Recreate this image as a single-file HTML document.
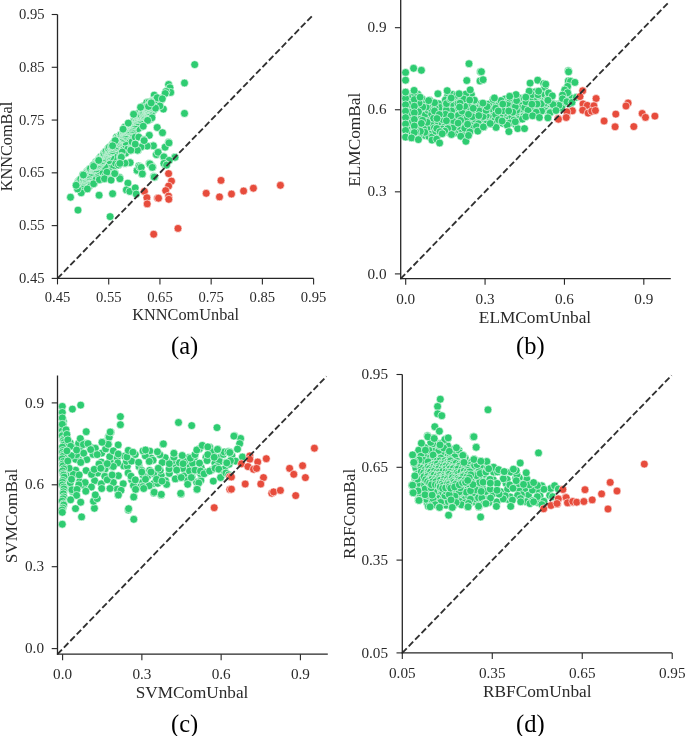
<!DOCTYPE html>
<html><head><meta charset="utf-8"><style>
html,body{margin:0;padding:0;background:#fff;}
body{width:685px;height:736px;overflow:hidden;}
svg{display:block;will-change:transform;}
text{font-family:"Liberation Serif",serif;fill:#2a2a2a;}
.t{font-size:14.6px;}
.l{font-size:16.4px;}
.g{font-size:24.5px;fill:#000;}
</style></head><body>
<svg width="685" height="736" viewBox="0 0 685 736">
<rect width="685" height="736" fill="#fff"/>
<g stroke="#fff" stroke-width="0.6"><circle cx="120.6" cy="159.5" r="3.95" fill="#2ecc71"/><circle cx="161.2" cy="100.0" r="3.95" fill="#2ecc71"/><circle cx="98.5" cy="175.5" r="3.95" fill="#2ecc71"/><circle cx="129.3" cy="147.8" r="3.95" fill="#2ecc71"/><circle cx="125.6" cy="153.2" r="3.95" fill="#2ecc71"/><circle cx="98.5" cy="171.6" r="3.95" fill="#2ecc71"/><circle cx="105.1" cy="164.8" r="3.95" fill="#2ecc71"/><circle cx="114.9" cy="172.7" r="3.95" fill="#2ecc71"/><circle cx="109.9" cy="164.7" r="3.95" fill="#2ecc71"/><circle cx="108.9" cy="168.0" r="3.95" fill="#2ecc71"/><circle cx="96.0" cy="174.8" r="3.95" fill="#2ecc71"/><circle cx="98.3" cy="178.4" r="3.95" fill="#2ecc71"/><circle cx="143.5" cy="105.9" r="3.95" fill="#2ecc71"/><circle cx="135.9" cy="133.1" r="3.95" fill="#2ecc71"/><circle cx="112.0" cy="159.1" r="3.95" fill="#2ecc71"/><circle cx="102.9" cy="172.4" r="3.95" fill="#2ecc71"/><circle cx="89.5" cy="186.0" r="3.95" fill="#2ecc71"/><circle cx="140.3" cy="127.1" r="3.95" fill="#2ecc71"/><circle cx="102.6" cy="163.4" r="3.95" fill="#2ecc71"/><circle cx="108.8" cy="175.8" r="3.95" fill="#2ecc71"/><circle cx="150.3" cy="119.2" r="3.95" fill="#2ecc71"/><circle cx="126.4" cy="145.0" r="3.95" fill="#2ecc71"/><circle cx="130.5" cy="137.1" r="3.95" fill="#2ecc71"/><circle cx="117.6" cy="159.1" r="3.95" fill="#2ecc71"/><circle cx="113.5" cy="167.3" r="3.95" fill="#2ecc71"/><circle cx="131.6" cy="146.1" r="3.95" fill="#2ecc71"/><circle cx="102.4" cy="178.8" r="3.95" fill="#2ecc71"/><circle cx="144.8" cy="118.1" r="3.95" fill="#2ecc71"/><circle cx="88.4" cy="180.2" r="3.95" fill="#2ecc71"/><circle cx="124.4" cy="147.7" r="3.95" fill="#2ecc71"/><circle cx="140.6" cy="110.4" r="3.95" fill="#2ecc71"/><circle cx="118.0" cy="151.6" r="3.95" fill="#2ecc71"/><circle cx="138.1" cy="128.7" r="3.95" fill="#2ecc71"/><circle cx="84.3" cy="188.1" r="3.95" fill="#2ecc71"/><circle cx="121.3" cy="144.9" r="3.95" fill="#2ecc71"/><circle cx="146.8" cy="102.5" r="3.95" fill="#2ecc71"/><circle cx="118.9" cy="148.4" r="3.95" fill="#2ecc71"/><circle cx="144.4" cy="122.0" r="3.95" fill="#2ecc71"/><circle cx="94.3" cy="183.2" r="3.95" fill="#2ecc71"/><circle cx="116.5" cy="137.1" r="3.95" fill="#2ecc71"/><circle cx="99.7" cy="166.7" r="3.95" fill="#2ecc71"/><circle cx="128.8" cy="141.7" r="3.95" fill="#2ecc71"/><circle cx="149.1" cy="101.9" r="3.95" fill="#2ecc71"/><circle cx="125.1" cy="142.1" r="3.95" fill="#2ecc71"/><circle cx="122.2" cy="152.0" r="3.95" fill="#2ecc71"/><circle cx="126.3" cy="137.7" r="3.95" fill="#2ecc71"/><circle cx="124.9" cy="127.0" r="3.95" fill="#2ecc71"/><circle cx="133.2" cy="133.8" r="3.95" fill="#2ecc71"/><circle cx="86.8" cy="184.1" r="3.95" fill="#2ecc71"/><circle cx="82.1" cy="189.7" r="3.95" fill="#2ecc71"/><circle cx="132.0" cy="141.8" r="3.95" fill="#2ecc71"/><circle cx="135.2" cy="137.1" r="3.95" fill="#2ecc71"/><circle cx="115.5" cy="163.2" r="3.95" fill="#2ecc71"/><circle cx="92.0" cy="179.2" r="3.95" fill="#2ecc71"/><circle cx="153.8" cy="109.9" r="3.95" fill="#2ecc71"/><circle cx="108.6" cy="160.8" r="3.95" fill="#2ecc71"/><circle cx="114.4" cy="157.0" r="3.95" fill="#2ecc71"/><circle cx="156.5" cy="106.8" r="3.95" fill="#2ecc71"/><circle cx="109.9" cy="171.8" r="3.95" fill="#2ecc71"/><circle cx="90.5" cy="183.3" r="3.95" fill="#2ecc71"/><circle cx="105.1" cy="175.9" r="3.95" fill="#2ecc71"/><circle cx="154.2" cy="95.1" r="3.95" fill="#2ecc71"/><circle cx="138.6" cy="113.4" r="3.95" fill="#2ecc71"/><circle cx="151.6" cy="114.9" r="3.95" fill="#2ecc71"/><circle cx="104.6" cy="166.7" r="3.95" fill="#2ecc71"/><circle cx="118.5" cy="165.0" r="3.95" fill="#2ecc71"/><circle cx="120.2" cy="157.0" r="3.95" fill="#2ecc71"/><circle cx="169.2" cy="90.9" r="3.95" fill="#2ecc71"/><circle cx="106.9" cy="172.2" r="3.95" fill="#2ecc71"/><circle cx="110.8" cy="156.9" r="3.95" fill="#2ecc71"/><circle cx="78.5" cy="183.6" r="3.95" fill="#2ecc71"/><circle cx="78.4" cy="182.8" r="3.95" fill="#2ecc71"/><circle cx="78.5" cy="182.3" r="3.95" fill="#2ecc71"/><circle cx="78.3" cy="181.4" r="3.95" fill="#2ecc71"/><circle cx="79.4" cy="181.8" r="3.95" fill="#2ecc71"/><circle cx="79.0" cy="180.8" r="3.95" fill="#2ecc71"/><circle cx="82.7" cy="183.5" r="3.95" fill="#2ecc71"/><circle cx="81.4" cy="181.7" r="3.95" fill="#2ecc71"/><circle cx="79.9" cy="179.6" r="3.95" fill="#2ecc71"/><circle cx="81.3" cy="180.3" r="3.95" fill="#2ecc71"/><circle cx="80.7" cy="179.1" r="3.95" fill="#2ecc71"/><circle cx="84.0" cy="181.5" r="3.95" fill="#2ecc71"/><circle cx="83.0" cy="179.9" r="3.95" fill="#2ecc71"/><circle cx="84.2" cy="180.3" r="3.95" fill="#2ecc71"/><circle cx="83.3" cy="178.9" r="3.95" fill="#2ecc71"/><circle cx="83.5" cy="178.5" r="3.95" fill="#2ecc71"/><circle cx="86.0" cy="180.1" r="3.95" fill="#2ecc71"/><circle cx="85.6" cy="179.0" r="3.95" fill="#2ecc71"/><circle cx="85.6" cy="178.4" r="3.95" fill="#2ecc71"/><circle cx="83.5" cy="175.9" r="3.95" fill="#2ecc71"/><circle cx="84.4" cy="176.0" r="3.95" fill="#2ecc71"/><circle cx="87.1" cy="177.8" r="3.95" fill="#2ecc71"/><circle cx="84.9" cy="175.2" r="3.95" fill="#2ecc71"/><circle cx="87.8" cy="177.2" r="3.95" fill="#2ecc71"/><circle cx="86.3" cy="175.2" r="3.95" fill="#2ecc71"/><circle cx="88.5" cy="176.5" r="3.95" fill="#2ecc71"/><circle cx="89.3" cy="176.6" r="3.95" fill="#2ecc71"/><circle cx="86.3" cy="173.2" r="3.95" fill="#2ecc71"/><circle cx="89.1" cy="175.2" r="3.95" fill="#2ecc71"/><circle cx="89.4" cy="174.8" r="3.95" fill="#2ecc71"/><circle cx="86.8" cy="171.8" r="3.95" fill="#2ecc71"/><circle cx="87.6" cy="171.8" r="3.95" fill="#2ecc71"/><circle cx="90.1" cy="173.5" r="3.95" fill="#2ecc71"/><circle cx="87.9" cy="170.8" r="3.95" fill="#2ecc71"/><circle cx="89.8" cy="171.9" r="3.95" fill="#2ecc71"/><circle cx="89.6" cy="171.1" r="3.95" fill="#2ecc71"/><circle cx="91.7" cy="172.4" r="3.95" fill="#2ecc71"/><circle cx="89.2" cy="169.4" r="3.95" fill="#2ecc71"/><circle cx="90.5" cy="170.0" r="3.95" fill="#2ecc71"/><circle cx="89.8" cy="168.7" r="3.95" fill="#2ecc71"/><circle cx="90.4" cy="168.6" r="3.95" fill="#2ecc71"/><circle cx="93.0" cy="170.3" r="3.95" fill="#2ecc71"/><circle cx="93.1" cy="169.7" r="3.95" fill="#2ecc71"/><circle cx="94.1" cy="170.1" r="3.95" fill="#2ecc71"/><circle cx="94.5" cy="169.8" r="3.95" fill="#2ecc71"/><circle cx="95.2" cy="169.7" r="3.95" fill="#2ecc71"/><circle cx="94.6" cy="168.5" r="3.95" fill="#2ecc71"/><circle cx="93.7" cy="167.1" r="3.95" fill="#2ecc71"/><circle cx="96.4" cy="168.9" r="3.95" fill="#2ecc71"/><circle cx="94.1" cy="166.2" r="3.95" fill="#2ecc71"/><circle cx="95.7" cy="167.0" r="3.95" fill="#2ecc71"/><circle cx="96.2" cy="166.7" r="3.95" fill="#2ecc71"/><circle cx="94.5" cy="164.6" r="3.95" fill="#2ecc71"/><circle cx="96.1" cy="165.4" r="3.95" fill="#2ecc71"/><circle cx="97.1" cy="165.7" r="3.95" fill="#2ecc71"/><circle cx="96.8" cy="164.7" r="3.95" fill="#2ecc71"/><circle cx="96.3" cy="163.6" r="3.95" fill="#2ecc71"/><circle cx="99.1" cy="165.5" r="3.95" fill="#2ecc71"/><circle cx="95.9" cy="161.9" r="3.95" fill="#2ecc71"/><circle cx="99.8" cy="164.9" r="3.95" fill="#2ecc71"/><circle cx="97.4" cy="162.0" r="3.95" fill="#2ecc71"/><circle cx="97.3" cy="161.3" r="3.95" fill="#2ecc71"/><circle cx="100.8" cy="163.9" r="3.95" fill="#2ecc71"/><circle cx="98.2" cy="160.8" r="3.95" fill="#2ecc71"/><circle cx="100.1" cy="162.0" r="3.95" fill="#2ecc71"/><circle cx="99.6" cy="160.9" r="3.95" fill="#2ecc71"/><circle cx="102.1" cy="162.5" r="3.95" fill="#2ecc71"/><circle cx="102.3" cy="162.0" r="3.95" fill="#2ecc71"/><circle cx="102.1" cy="161.2" r="3.95" fill="#2ecc71"/><circle cx="99.5" cy="158.1" r="3.95" fill="#2ecc71"/><circle cx="102.7" cy="160.5" r="3.95" fill="#2ecc71"/><circle cx="100.9" cy="158.1" r="3.95" fill="#2ecc71"/><circle cx="100.5" cy="157.2" r="3.95" fill="#2ecc71"/><circle cx="100.8" cy="156.8" r="3.95" fill="#2ecc71"/><circle cx="103.4" cy="158.5" r="3.95" fill="#2ecc71"/><circle cx="103.7" cy="158.2" r="3.95" fill="#2ecc71"/><circle cx="103.4" cy="157.2" r="3.95" fill="#2ecc71"/><circle cx="102.8" cy="156.0" r="3.95" fill="#2ecc71"/><circle cx="105.6" cy="158.0" r="3.95" fill="#2ecc71"/><circle cx="103.5" cy="155.4" r="3.95" fill="#2ecc71"/><circle cx="103.6" cy="154.8" r="3.95" fill="#2ecc71"/><circle cx="103.7" cy="154.3" r="3.95" fill="#2ecc71"/><circle cx="107.2" cy="156.8" r="3.95" fill="#2ecc71"/><circle cx="104.0" cy="153.3" r="3.95" fill="#2ecc71"/><circle cx="107.6" cy="155.9" r="3.95" fill="#2ecc71"/><circle cx="107.0" cy="154.7" r="3.95" fill="#2ecc71"/><circle cx="106.3" cy="153.4" r="3.95" fill="#2ecc71"/><circle cx="105.4" cy="152.0" r="3.95" fill="#2ecc71"/><circle cx="108.0" cy="153.6" r="3.95" fill="#2ecc71"/><circle cx="106.0" cy="151.2" r="3.95" fill="#2ecc71"/><circle cx="107.8" cy="152.2" r="3.95" fill="#2ecc71"/><circle cx="109.0" cy="152.7" r="3.95" fill="#2ecc71"/><circle cx="109.3" cy="152.3" r="3.95" fill="#2ecc71"/><circle cx="110.2" cy="152.4" r="3.95" fill="#2ecc71"/><circle cx="110.9" cy="152.4" r="3.95" fill="#2ecc71"/><circle cx="111.0" cy="151.8" r="3.95" fill="#2ecc71"/><circle cx="109.2" cy="149.6" r="3.95" fill="#2ecc71"/><circle cx="108.3" cy="148.2" r="3.95" fill="#2ecc71"/><circle cx="111.9" cy="150.7" r="3.95" fill="#2ecc71"/><circle cx="112.6" cy="150.8" r="3.95" fill="#2ecc71"/><circle cx="109.4" cy="147.1" r="3.95" fill="#2ecc71"/><circle cx="111.4" cy="148.4" r="3.95" fill="#2ecc71"/><circle cx="112.2" cy="148.5" r="3.95" fill="#2ecc71"/><circle cx="113.2" cy="148.7" r="3.95" fill="#2ecc71"/><circle cx="112.1" cy="147.1" r="3.95" fill="#2ecc71"/><circle cx="111.6" cy="145.9" r="3.95" fill="#2ecc71"/><circle cx="113.3" cy="146.9" r="3.95" fill="#2ecc71"/><circle cx="113.8" cy="146.7" r="3.95" fill="#2ecc71"/><circle cx="115.5" cy="147.6" r="3.95" fill="#2ecc71"/><circle cx="112.5" cy="144.2" r="3.95" fill="#2ecc71"/><circle cx="116.2" cy="147.0" r="3.95" fill="#2ecc71"/><circle cx="114.8" cy="145.0" r="3.95" fill="#2ecc71"/><circle cx="113.8" cy="143.4" r="3.95" fill="#2ecc71"/><circle cx="116.8" cy="145.6" r="3.95" fill="#2ecc71"/><circle cx="114.8" cy="143.1" r="3.95" fill="#2ecc71"/><circle cx="114.3" cy="142.0" r="3.95" fill="#2ecc71"/><circle cx="115.9" cy="142.8" r="3.95" fill="#2ecc71"/><circle cx="115.6" cy="141.9" r="3.95" fill="#2ecc71"/><circle cx="118.5" cy="143.9" r="3.95" fill="#2ecc71"/><circle cx="117.6" cy="142.4" r="3.95" fill="#2ecc71"/><circle cx="119.0" cy="143.1" r="3.95" fill="#2ecc71"/><circle cx="116.7" cy="140.3" r="3.95" fill="#2ecc71"/><circle cx="119.1" cy="141.8" r="3.95" fill="#2ecc71"/><circle cx="118.8" cy="140.9" r="3.95" fill="#2ecc71"/><circle cx="117.0" cy="138.7" r="3.95" fill="#2ecc71"/><circle cx="117.9" cy="138.8" r="3.95" fill="#2ecc71"/><circle cx="117.8" cy="138.0" r="3.95" fill="#2ecc71"/><circle cx="120.1" cy="139.5" r="3.95" fill="#2ecc71"/><circle cx="120.3" cy="139.1" r="3.95" fill="#2ecc71"/><circle cx="119.7" cy="137.9" r="3.95" fill="#2ecc71"/><circle cx="121.0" cy="138.4" r="3.95" fill="#2ecc71"/><circle cx="122.0" cy="138.7" r="3.95" fill="#2ecc71"/><circle cx="121.9" cy="137.9" r="3.95" fill="#2ecc71"/><circle cx="123.2" cy="138.5" r="3.95" fill="#2ecc71"/><circle cx="122.6" cy="137.3" r="3.95" fill="#2ecc71"/><circle cx="120.6" cy="134.8" r="3.95" fill="#2ecc71"/><circle cx="121.1" cy="134.6" r="3.95" fill="#2ecc71"/><circle cx="122.7" cy="135.4" r="3.95" fill="#2ecc71"/><circle cx="123.5" cy="135.5" r="3.95" fill="#2ecc71"/><circle cx="124.4" cy="135.7" r="3.95" fill="#2ecc71"/><circle cx="125.7" cy="136.2" r="3.95" fill="#2ecc71"/><circle cx="125.3" cy="135.2" r="3.95" fill="#2ecc71"/><circle cx="123.7" cy="133.1" r="3.95" fill="#2ecc71"/><circle cx="123.7" cy="132.4" r="3.95" fill="#2ecc71"/><circle cx="125.9" cy="133.9" r="3.95" fill="#2ecc71"/><circle cx="124.6" cy="132.0" r="3.95" fill="#2ecc71"/><circle cx="125.0" cy="131.7" r="3.95" fill="#2ecc71"/><circle cx="125.6" cy="131.7" r="3.95" fill="#2ecc71"/><circle cx="126.1" cy="131.4" r="3.95" fill="#2ecc71"/><circle cx="126.0" cy="130.7" r="3.95" fill="#2ecc71"/><circle cx="127.8" cy="131.8" r="3.95" fill="#2ecc71"/><circle cx="126.9" cy="130.2" r="3.95" fill="#2ecc71"/><circle cx="128.8" cy="131.3" r="3.95" fill="#2ecc71"/><circle cx="128.3" cy="130.3" r="3.95" fill="#2ecc71"/><circle cx="127.6" cy="128.9" r="3.95" fill="#2ecc71"/><circle cx="128.2" cy="128.9" r="3.95" fill="#2ecc71"/><circle cx="130.0" cy="129.9" r="3.95" fill="#2ecc71"/><circle cx="127.9" cy="127.3" r="3.95" fill="#2ecc71"/><circle cx="129.3" cy="127.9" r="3.95" fill="#2ecc71"/><circle cx="129.9" cy="127.8" r="3.95" fill="#2ecc71"/><circle cx="132.4" cy="129.5" r="3.95" fill="#2ecc71"/><circle cx="130.7" cy="127.2" r="3.95" fill="#2ecc71"/><circle cx="132.1" cy="127.9" r="3.95" fill="#2ecc71"/><circle cx="130.9" cy="126.1" r="3.95" fill="#2ecc71"/><circle cx="132.0" cy="126.5" r="3.95" fill="#2ecc71"/><circle cx="130.9" cy="124.9" r="3.95" fill="#2ecc71"/><circle cx="131.9" cy="125.1" r="3.95" fill="#2ecc71"/><circle cx="131.7" cy="124.3" r="3.95" fill="#2ecc71"/><circle cx="133.7" cy="125.5" r="3.95" fill="#2ecc71"/><circle cx="132.9" cy="124.1" r="3.95" fill="#2ecc71"/><circle cx="132.9" cy="123.4" r="3.95" fill="#2ecc71"/><circle cx="132.8" cy="122.7" r="3.95" fill="#2ecc71"/><circle cx="135.0" cy="124.1" r="3.95" fill="#2ecc71"/><circle cx="133.4" cy="122.0" r="3.95" fill="#2ecc71"/><circle cx="133.6" cy="121.5" r="3.95" fill="#2ecc71"/><circle cx="134.7" cy="121.8" r="3.95" fill="#2ecc71"/><circle cx="133.9" cy="120.5" r="3.95" fill="#2ecc71"/><circle cx="134.3" cy="120.2" r="3.95" fill="#2ecc71"/><circle cx="136.3" cy="121.4" r="3.95" fill="#2ecc71"/><circle cx="136.6" cy="121.0" r="3.95" fill="#2ecc71"/><circle cx="138.3" cy="121.9" r="3.95" fill="#2ecc71"/><circle cx="136.0" cy="119.2" r="3.95" fill="#2ecc71"/><circle cx="136.0" cy="118.5" r="3.95" fill="#2ecc71"/><circle cx="138.0" cy="119.8" r="3.95" fill="#2ecc71"/><circle cx="137.5" cy="118.7" r="3.95" fill="#2ecc71"/><circle cx="137.8" cy="118.2" r="3.95" fill="#2ecc71"/><circle cx="138.0" cy="117.8" r="3.95" fill="#2ecc71"/><circle cx="140.5" cy="119.4" r="3.95" fill="#2ecc71"/><circle cx="138.5" cy="116.9" r="3.95" fill="#2ecc71"/><circle cx="139.6" cy="117.3" r="3.95" fill="#2ecc71"/><circle cx="139.6" cy="116.6" r="3.95" fill="#2ecc71"/><circle cx="140.8" cy="117.1" r="3.95" fill="#2ecc71"/><circle cx="140.4" cy="116.1" r="3.95" fill="#2ecc71"/><circle cx="140.1" cy="115.2" r="3.95" fill="#2ecc71"/><circle cx="141.0" cy="115.3" r="3.95" fill="#2ecc71"/><circle cx="141.0" cy="114.7" r="3.95" fill="#2ecc71"/><circle cx="144.0" cy="116.8" r="3.95" fill="#2ecc71"/><circle cx="143.8" cy="116.0" r="3.95" fill="#2ecc71"/><circle cx="143.0" cy="114.6" r="3.95" fill="#2ecc71"/><circle cx="142.5" cy="113.5" r="3.95" fill="#2ecc71"/><circle cx="144.5" cy="114.7" r="3.95" fill="#2ecc71"/><circle cx="143.0" cy="112.7" r="3.95" fill="#2ecc71"/><circle cx="143.6" cy="112.5" r="3.95" fill="#2ecc71"/><circle cx="146.2" cy="114.3" r="3.95" fill="#2ecc71"/><circle cx="144.8" cy="112.4" r="3.95" fill="#2ecc71"/><circle cx="146.1" cy="112.9" r="3.95" fill="#2ecc71"/><circle cx="147.1" cy="113.2" r="3.95" fill="#2ecc71"/><circle cx="147.1" cy="112.5" r="3.95" fill="#2ecc71"/><circle cx="146.7" cy="111.5" r="3.95" fill="#2ecc71"/><circle cx="147.6" cy="111.7" r="3.95" fill="#2ecc71"/><circle cx="147.8" cy="111.3" r="3.95" fill="#2ecc71"/><circle cx="148.8" cy="111.5" r="3.95" fill="#2ecc71"/><circle cx="147.4" cy="109.6" r="3.95" fill="#2ecc71"/><circle cx="148.1" cy="109.6" r="3.95" fill="#2ecc71"/><circle cx="147.5" cy="108.4" r="3.95" fill="#2ecc71"/><circle cx="147.9" cy="108.1" r="3.95" fill="#2ecc71"/><circle cx="149.6" cy="109.0" r="3.95" fill="#2ecc71"/><circle cx="147.4" cy="106.3" r="3.95" fill="#2ecc71"/><circle cx="151.1" cy="109.1" r="3.95" fill="#2ecc71"/><circle cx="149.9" cy="107.4" r="3.95" fill="#2ecc71"/><circle cx="150.7" cy="107.5" r="3.95" fill="#2ecc71"/><circle cx="150.5" cy="106.6" r="3.95" fill="#2ecc71"/><circle cx="152.0" cy="107.3" r="3.95" fill="#2ecc71"/><circle cx="149.6" cy="104.5" r="3.95" fill="#2ecc71"/><circle cx="151.7" cy="105.7" r="3.95" fill="#2ecc71"/><circle cx="153.3" cy="106.6" r="3.95" fill="#2ecc71"/><circle cx="151.4" cy="104.2" r="3.95" fill="#2ecc71"/><circle cx="153.7" cy="105.6" r="3.95" fill="#2ecc71"/><circle cx="152.3" cy="103.7" r="3.95" fill="#2ecc71"/><circle cx="153.4" cy="104.1" r="3.95" fill="#2ecc71"/><circle cx="152.8" cy="102.9" r="3.95" fill="#2ecc71"/><circle cx="151.7" cy="101.2" r="3.95" fill="#2ecc71"/><circle cx="152.5" cy="101.3" r="3.95" fill="#2ecc71"/><circle cx="154.4" cy="102.4" r="3.95" fill="#2ecc71"/><circle cx="153.2" cy="100.7" r="3.95" fill="#2ecc71"/><circle cx="154.2" cy="100.9" r="3.95" fill="#2ecc71"/><circle cx="155.5" cy="101.5" r="3.95" fill="#2ecc71"/><circle cx="156.7" cy="102.0" r="3.95" fill="#2ecc71"/><circle cx="155.3" cy="100.0" r="3.95" fill="#2ecc71"/><circle cx="155.8" cy="99.8" r="3.95" fill="#2ecc71"/><circle cx="168.6" cy="84.5" r="3.95" fill="#2ecc71"/><circle cx="170.0" cy="87.7" r="3.95" fill="#2ecc71"/><circle cx="170.7" cy="92.4" r="3.95" fill="#2ecc71"/><circle cx="166.0" cy="91.5" r="3.95" fill="#2ecc71"/><circle cx="162.1" cy="98.2" r="3.95" fill="#2ecc71"/><circle cx="157.2" cy="97.7" r="3.95" fill="#2ecc71"/><circle cx="163.4" cy="109.1" r="3.95" fill="#2ecc71"/><circle cx="159.9" cy="105.9" r="3.95" fill="#2ecc71"/><circle cx="155.5" cy="108.2" r="3.95" fill="#2ecc71"/><circle cx="151.1" cy="102.0" r="3.95" fill="#2ecc71"/><circle cx="140.6" cy="107.3" r="3.95" fill="#2ecc71"/><circle cx="148.5" cy="106.4" r="3.95" fill="#2ecc71"/><circle cx="152.0" cy="117.8" r="3.95" fill="#2ecc71"/><circle cx="147.6" cy="120.4" r="3.95" fill="#2ecc71"/><circle cx="143.2" cy="126.2" r="3.95" fill="#2ecc71"/><circle cx="133.6" cy="114.3" r="3.95" fill="#2ecc71"/><circle cx="128.3" cy="123.1" r="3.95" fill="#2ecc71"/><circle cx="123.1" cy="129.2" r="3.95" fill="#2ecc71"/><circle cx="157.2" cy="127.5" r="3.95" fill="#2ecc71"/><circle cx="162.5" cy="132.7" r="3.95" fill="#2ecc71"/><circle cx="149.3" cy="135.3" r="3.95" fill="#2ecc71"/><circle cx="138.8" cy="137.1" r="3.95" fill="#2ecc71"/><circle cx="144.1" cy="139.7" r="3.95" fill="#2ecc71"/><circle cx="152.9" cy="145.8" r="3.95" fill="#2ecc71"/><circle cx="146.7" cy="145.8" r="3.95" fill="#2ecc71"/><circle cx="140.6" cy="146.7" r="3.95" fill="#2ecc71"/><circle cx="135.3" cy="144.1" r="3.95" fill="#2ecc71"/><circle cx="138.0" cy="150.2" r="3.95" fill="#2ecc71"/><circle cx="131.0" cy="150.2" r="3.95" fill="#2ecc71"/><circle cx="168.6" cy="142.3" r="3.95" fill="#2ecc71"/><circle cx="165.1" cy="147.2" r="3.95" fill="#2ecc71"/><circle cx="156.4" cy="154.6" r="3.95" fill="#2ecc71"/><circle cx="158.1" cy="152.0" r="3.95" fill="#2ecc71"/><circle cx="163.4" cy="156.4" r="3.95" fill="#2ecc71"/><circle cx="174.8" cy="157.2" r="3.95" fill="#2ecc71"/><circle cx="168.6" cy="160.7" r="3.95" fill="#2ecc71"/><circle cx="165.1" cy="165.1" r="3.95" fill="#2ecc71"/><circle cx="151.1" cy="165.1" r="3.95" fill="#2ecc71"/><circle cx="138.8" cy="166.0" r="3.95" fill="#2ecc71"/><circle cx="137.1" cy="170.4" r="3.95" fill="#2ecc71"/><circle cx="142.3" cy="173.5" r="3.95" fill="#2ecc71"/><circle cx="130.1" cy="162.5" r="3.95" fill="#2ecc71"/><circle cx="124.8" cy="163.4" r="3.95" fill="#2ecc71"/><circle cx="121.3" cy="156.4" r="3.95" fill="#2ecc71"/><circle cx="119.6" cy="177.4" r="3.95" fill="#2ecc71"/><circle cx="114.3" cy="173.0" r="3.95" fill="#2ecc71"/><circle cx="153.7" cy="176.5" r="3.95" fill="#2ecc71"/><circle cx="115.2" cy="140.6" r="3.95" fill="#2ecc71"/><circle cx="112.6" cy="145.8" r="3.95" fill="#2ecc71"/><circle cx="98.5" cy="159.9" r="3.95" fill="#2ecc71"/><circle cx="93.3" cy="165.1" r="3.95" fill="#2ecc71"/><circle cx="82.8" cy="174.8" r="3.95" fill="#2ecc71"/><circle cx="194.7" cy="64.6" r="3.95" fill="#2ecc71"/><circle cx="184.5" cy="83.0" r="3.95" fill="#2ecc71"/><circle cx="184.5" cy="113.4" r="3.95" fill="#2ecc71"/><circle cx="165.2" cy="93.5" r="3.95" fill="#2ecc71"/><circle cx="162.3" cy="98.8" r="3.95" fill="#2ecc71"/><circle cx="151.2" cy="102.9" r="3.95" fill="#2ecc71"/><circle cx="70.5" cy="197.2" r="3.95" fill="#2ecc71"/><circle cx="78.0" cy="210.1" r="3.95" fill="#2ecc71"/><circle cx="110.1" cy="216.6" r="3.95" fill="#2ecc71"/><circle cx="99.1" cy="195.2" r="3.95" fill="#2ecc71"/><circle cx="112.6" cy="193.7" r="3.95" fill="#2ecc71"/><circle cx="81.2" cy="192.8" r="3.95" fill="#2ecc71"/><circle cx="77.5" cy="188.9" r="3.95" fill="#2ecc71"/><circle cx="76.1" cy="185.3" r="3.95" fill="#2ecc71"/><circle cx="87.4" cy="188.9" r="3.95" fill="#2ecc71"/><circle cx="93.6" cy="183.8" r="3.95" fill="#2ecc71"/><circle cx="99.4" cy="179.7" r="3.95" fill="#2ecc71"/><circle cx="104.5" cy="178.7" r="3.95" fill="#2ecc71"/><circle cx="111.1" cy="180.1" r="3.95" fill="#2ecc71"/><circle cx="119.9" cy="178.7" r="3.95" fill="#2ecc71"/><circle cx="114.7" cy="173.6" r="3.95" fill="#2ecc71"/><circle cx="127.9" cy="183.1" r="3.95" fill="#2ecc71"/><circle cx="126.4" cy="189.9" r="3.95" fill="#2ecc71"/><circle cx="129.8" cy="191.4" r="3.95" fill="#2ecc71"/><circle cx="135.2" cy="187.9" r="3.95" fill="#2ecc71"/><circle cx="136.2" cy="194.0" r="3.95" fill="#2ecc71"/><circle cx="137.1" cy="170.4" r="3.95" fill="#2ecc71"/><circle cx="139.6" cy="167.0" r="3.95" fill="#2ecc71"/><circle cx="142.0" cy="173.9" r="3.95" fill="#2ecc71"/><circle cx="149.3" cy="163.4" r="3.95" fill="#2ecc71"/><circle cx="152.7" cy="167.0" r="3.95" fill="#2ecc71"/><circle cx="154.6" cy="177.2" r="3.95" fill="#2ecc71"/><circle cx="156.4" cy="154.6" r="3.95" fill="#2ecc71"/><circle cx="153.4" cy="145.8" r="3.95" fill="#2ecc71"/><circle cx="147.2" cy="146.1" r="3.95" fill="#2ecc71"/><circle cx="141.0" cy="147.0" r="3.95" fill="#2ecc71"/><circle cx="137.4" cy="150.2" r="3.95" fill="#2ecc71"/><circle cx="130.8" cy="150.2" r="3.95" fill="#2ecc71"/><circle cx="135.2" cy="144.1" r="3.95" fill="#2ecc71"/><circle cx="130.1" cy="162.6" r="3.95" fill="#2ecc71"/><circle cx="125.0" cy="163.1" r="3.95" fill="#2ecc71"/><circle cx="121.3" cy="157.2" r="3.95" fill="#2ecc71"/><circle cx="119.9" cy="163.4" r="3.95" fill="#2ecc71"/><circle cx="83.4" cy="175.0" r="3.95" fill="#2ecc71"/><circle cx="93.6" cy="166.3" r="3.95" fill="#2ecc71"/><circle cx="98.7" cy="160.4" r="3.95" fill="#2ecc71"/><circle cx="144.1" cy="140.6" r="3.95" fill="#2ecc71"/><circle cx="169.0" cy="142.9" r="3.95" fill="#2ecc71"/><circle cx="158.1" cy="152.3" r="3.95" fill="#2ecc71"/><circle cx="163.9" cy="156.9" r="3.95" fill="#2ecc71"/><circle cx="175.0" cy="157.3" r="3.95" fill="#2ecc71"/><circle cx="169.2" cy="160.4" r="3.95" fill="#2ecc71"/><circle cx="163.9" cy="163.4" r="3.95" fill="#2ecc71"/><circle cx="166.6" cy="165.1" r="3.95" fill="#2ecc71"/><circle cx="149.9" cy="163.9" r="3.95" fill="#2ecc71"/><circle cx="152.3" cy="167.4" r="3.95" fill="#2ecc71"/><circle cx="141.2" cy="167.4" r="3.95" fill="#2ecc71"/><circle cx="142.3" cy="173.9" r="3.95" fill="#2ecc71"/><circle cx="154.2" cy="177.1" r="3.95" fill="#2ecc71"/><circle cx="144.4" cy="191.4" r="3.95" fill="#e74c3c"/><circle cx="146.9" cy="197.7" r="3.95" fill="#e74c3c"/><circle cx="147.2" cy="203.9" r="3.95" fill="#e74c3c"/><circle cx="157.5" cy="198.1" r="3.95" fill="#e74c3c"/><circle cx="153.7" cy="234.2" r="3.95" fill="#e74c3c"/><circle cx="178.0" cy="228.4" r="3.95" fill="#e74c3c"/><circle cx="168.6" cy="173.6" r="3.95" fill="#e74c3c"/><circle cx="171.5" cy="181.1" r="3.95" fill="#e74c3c"/><circle cx="168.6" cy="186.1" r="3.95" fill="#e74c3c"/><circle cx="165.7" cy="190.6" r="3.95" fill="#e74c3c"/><circle cx="168.6" cy="196.1" r="3.95" fill="#e74c3c"/><circle cx="168.8" cy="199.3" r="3.95" fill="#e74c3c"/><circle cx="158.5" cy="198.2" r="3.95" fill="#e74c3c"/><circle cx="206.2" cy="193.3" r="3.95" fill="#e74c3c"/><circle cx="221.0" cy="180.4" r="3.95" fill="#e74c3c"/><circle cx="219.5" cy="196.9" r="3.95" fill="#e74c3c"/><circle cx="231.5" cy="194.0" r="3.95" fill="#e74c3c"/><circle cx="243.6" cy="191.0" r="3.95" fill="#e74c3c"/><circle cx="253.4" cy="188.2" r="3.95" fill="#e74c3c"/><circle cx="280.4" cy="185.3" r="3.95" fill="#e74c3c"/></g>
<line x1="57.5" y1="278.4" x2="313.4" y2="14.6" stroke="#303030" stroke-width="1.85" stroke-dasharray="6.4 2.8"/>
<line x1="57.5" y1="14.5" x2="57.5" y2="279.0" stroke="#262626" stroke-width="1.3"/>
<line x1="56.9" y1="278.4" x2="313.6" y2="278.4" stroke="#262626" stroke-width="1.3"/>
<line x1="57.5" y1="278.4" x2="57.5" y2="284.4" stroke="#262626" stroke-width="1.1"/>
<text x="57.5" y="301.9" text-anchor="middle" class="t" style="font-size:14.6px">0.45</text>
<line x1="108.72" y1="278.4" x2="108.72" y2="284.4" stroke="#262626" stroke-width="1.1"/>
<text x="108.72" y="301.9" text-anchor="middle" class="t" style="font-size:14.6px">0.55</text>
<line x1="159.94" y1="278.4" x2="159.94" y2="284.4" stroke="#262626" stroke-width="1.1"/>
<text x="159.94" y="301.9" text-anchor="middle" class="t" style="font-size:14.6px">0.65</text>
<line x1="211.16" y1="278.4" x2="211.16" y2="284.4" stroke="#262626" stroke-width="1.1"/>
<text x="211.16" y="301.9" text-anchor="middle" class="t" style="font-size:14.6px">0.75</text>
<line x1="262.38" y1="278.4" x2="262.38" y2="284.4" stroke="#262626" stroke-width="1.1"/>
<text x="262.38" y="301.9" text-anchor="middle" class="t" style="font-size:14.6px">0.85</text>
<line x1="313.6" y1="278.4" x2="313.6" y2="284.4" stroke="#262626" stroke-width="1.1"/>
<text x="313.6" y="301.9" text-anchor="middle" class="t" style="font-size:14.6px">0.95</text>
<line x1="51.7" y1="278.4" x2="57.5" y2="278.4" stroke="#262626" stroke-width="1.1"/>
<text x="44.5" y="283.0" text-anchor="end" class="t" style="font-size:14.6px">0.45</text>
<line x1="51.7" y1="225.61999999999998" x2="57.5" y2="225.61999999999998" stroke="#262626" stroke-width="1.1"/>
<text x="44.5" y="230.21999999999997" text-anchor="end" class="t" style="font-size:14.6px">0.55</text>
<line x1="51.7" y1="172.83999999999997" x2="57.5" y2="172.83999999999997" stroke="#262626" stroke-width="1.1"/>
<text x="44.5" y="177.43999999999997" text-anchor="end" class="t" style="font-size:14.6px">0.65</text>
<line x1="51.7" y1="120.05999999999997" x2="57.5" y2="120.05999999999997" stroke="#262626" stroke-width="1.1"/>
<text x="44.5" y="124.65999999999997" text-anchor="end" class="t" style="font-size:14.6px">0.75</text>
<line x1="51.7" y1="67.27999999999997" x2="57.5" y2="67.27999999999997" stroke="#262626" stroke-width="1.1"/>
<text x="44.5" y="71.87999999999997" text-anchor="end" class="t" style="font-size:14.6px">0.85</text>
<line x1="51.7" y1="14.5" x2="57.5" y2="14.5" stroke="#262626" stroke-width="1.1"/>
<text x="44.5" y="19.1" text-anchor="end" class="t" style="font-size:14.6px">0.95</text>
<text x="185.7" y="320.0" text-anchor="middle" class="l" style="font-size:16.3px">KNNComUnbal</text>
<text transform="translate(12.2,146.6) rotate(-90)" x="0" y="0" text-anchor="middle" class="l" style="font-size:16.3px">KNNComBal</text>
<text x="184.6" y="353.6" text-anchor="middle" class="g">(a)</text>
<g stroke="#fff" stroke-width="0.6"><circle cx="439.9" cy="122.4" r="3.95" fill="#2ecc71"/><circle cx="455.6" cy="132.7" r="3.95" fill="#2ecc71"/><circle cx="441.7" cy="112.7" r="3.95" fill="#2ecc71"/><circle cx="422.0" cy="116.7" r="3.95" fill="#2ecc71"/><circle cx="424.3" cy="111.1" r="3.95" fill="#2ecc71"/><circle cx="490.2" cy="118.9" r="3.95" fill="#2ecc71"/><circle cx="537.9" cy="99.3" r="3.95" fill="#2ecc71"/><circle cx="474.1" cy="104.5" r="3.95" fill="#2ecc71"/><circle cx="453.1" cy="116.6" r="3.95" fill="#2ecc71"/><circle cx="437.8" cy="112.5" r="3.95" fill="#2ecc71"/><circle cx="543.6" cy="90.3" r="3.95" fill="#2ecc71"/><circle cx="505.7" cy="115.8" r="3.95" fill="#2ecc71"/><circle cx="538.8" cy="115.3" r="3.95" fill="#2ecc71"/><circle cx="490.9" cy="114.4" r="3.95" fill="#2ecc71"/><circle cx="408.5" cy="128.2" r="3.95" fill="#2ecc71"/><circle cx="459.4" cy="130.5" r="3.95" fill="#2ecc71"/><circle cx="406.4" cy="107.0" r="3.95" fill="#2ecc71"/><circle cx="456.6" cy="119.0" r="3.95" fill="#2ecc71"/><circle cx="502.7" cy="123.3" r="3.95" fill="#2ecc71"/><circle cx="425.0" cy="114.9" r="3.95" fill="#2ecc71"/><circle cx="434.4" cy="115.1" r="3.95" fill="#2ecc71"/><circle cx="417.8" cy="94.2" r="3.95" fill="#2ecc71"/><circle cx="466.2" cy="110.7" r="3.95" fill="#2ecc71"/><circle cx="454.0" cy="99.1" r="3.95" fill="#2ecc71"/><circle cx="471.2" cy="104.2" r="3.95" fill="#2ecc71"/><circle cx="503.4" cy="119.6" r="3.95" fill="#2ecc71"/><circle cx="474.9" cy="111.8" r="3.95" fill="#2ecc71"/><circle cx="549.2" cy="106.6" r="3.95" fill="#2ecc71"/><circle cx="471.7" cy="111.1" r="3.95" fill="#2ecc71"/><circle cx="518.0" cy="103.2" r="3.95" fill="#2ecc71"/><circle cx="488.6" cy="110.6" r="3.95" fill="#2ecc71"/><circle cx="533.1" cy="106.6" r="3.95" fill="#2ecc71"/><circle cx="534.1" cy="99.3" r="3.95" fill="#2ecc71"/><circle cx="437.4" cy="134.7" r="3.95" fill="#2ecc71"/><circle cx="495.4" cy="118.8" r="3.95" fill="#2ecc71"/><circle cx="543.3" cy="106.9" r="3.95" fill="#2ecc71"/><circle cx="521.3" cy="114.5" r="3.95" fill="#2ecc71"/><circle cx="443.3" cy="104.3" r="3.95" fill="#2ecc71"/><circle cx="485.3" cy="118.5" r="3.95" fill="#2ecc71"/><circle cx="448.9" cy="132.5" r="3.95" fill="#2ecc71"/><circle cx="471.9" cy="119.8" r="3.95" fill="#2ecc71"/><circle cx="568.5" cy="100.0" r="3.95" fill="#2ecc71"/><circle cx="500.1" cy="114.7" r="3.95" fill="#2ecc71"/><circle cx="533.9" cy="114.9" r="3.95" fill="#2ecc71"/><circle cx="516.1" cy="115.5" r="3.95" fill="#2ecc71"/><circle cx="495.0" cy="102.4" r="3.95" fill="#2ecc71"/><circle cx="463.2" cy="132.7" r="3.95" fill="#2ecc71"/><circle cx="434.6" cy="123.9" r="3.95" fill="#2ecc71"/><circle cx="413.5" cy="103.3" r="3.95" fill="#2ecc71"/><circle cx="545.5" cy="102.6" r="3.95" fill="#2ecc71"/><circle cx="415.1" cy="112.8" r="3.95" fill="#2ecc71"/><circle cx="457.9" cy="112.5" r="3.95" fill="#2ecc71"/><circle cx="568.3" cy="94.5" r="3.95" fill="#2ecc71"/><circle cx="429.1" cy="103.2" r="3.95" fill="#2ecc71"/><circle cx="422.2" cy="98.9" r="3.95" fill="#2ecc71"/><circle cx="465.1" cy="124.8" r="3.95" fill="#2ecc71"/><circle cx="480.3" cy="128.0" r="3.95" fill="#2ecc71"/><circle cx="466.7" cy="104.4" r="3.95" fill="#2ecc71"/><circle cx="501.0" cy="107.0" r="3.95" fill="#2ecc71"/><circle cx="509.6" cy="118.7" r="3.95" fill="#2ecc71"/><circle cx="480.8" cy="103.6" r="3.95" fill="#2ecc71"/><circle cx="493.6" cy="111.2" r="3.95" fill="#2ecc71"/><circle cx="523.5" cy="111.2" r="3.95" fill="#2ecc71"/><circle cx="511.8" cy="116.6" r="3.95" fill="#2ecc71"/><circle cx="499.7" cy="103.5" r="3.95" fill="#2ecc71"/><circle cx="486.2" cy="115.5" r="3.95" fill="#2ecc71"/><circle cx="478.7" cy="107.7" r="3.95" fill="#2ecc71"/><circle cx="530.3" cy="91.7" r="3.95" fill="#2ecc71"/><circle cx="410.2" cy="136.3" r="3.95" fill="#2ecc71"/><circle cx="559.2" cy="104.0" r="3.95" fill="#2ecc71"/><circle cx="463.9" cy="114.5" r="3.95" fill="#2ecc71"/><circle cx="429.4" cy="120.5" r="3.95" fill="#2ecc71"/><circle cx="490.9" cy="124.0" r="3.95" fill="#2ecc71"/><circle cx="428.2" cy="110.5" r="3.95" fill="#2ecc71"/><circle cx="431.7" cy="114.1" r="3.95" fill="#2ecc71"/><circle cx="505.5" cy="106.2" r="3.95" fill="#2ecc71"/><circle cx="406.2" cy="99.9" r="3.95" fill="#2ecc71"/><circle cx="540.0" cy="95.7" r="3.95" fill="#2ecc71"/><circle cx="450.1" cy="123.6" r="3.95" fill="#2ecc71"/><circle cx="454.8" cy="108.2" r="3.95" fill="#2ecc71"/><circle cx="438.6" cy="103.7" r="3.95" fill="#2ecc71"/><circle cx="544.9" cy="99.9" r="3.95" fill="#2ecc71"/><circle cx="491.3" cy="108.6" r="3.95" fill="#2ecc71"/><circle cx="512.9" cy="102.6" r="3.95" fill="#2ecc71"/><circle cx="432.2" cy="132.2" r="3.95" fill="#2ecc71"/><circle cx="415.7" cy="116.7" r="3.95" fill="#2ecc71"/><circle cx="527.3" cy="96.3" r="3.95" fill="#2ecc71"/><circle cx="521.7" cy="104.6" r="3.95" fill="#2ecc71"/><circle cx="540.0" cy="91.6" r="3.95" fill="#2ecc71"/><circle cx="428.1" cy="127.3" r="3.95" fill="#2ecc71"/><circle cx="466.7" cy="118.9" r="3.95" fill="#2ecc71"/><circle cx="547.2" cy="99.3" r="3.95" fill="#2ecc71"/><circle cx="412.9" cy="132.2" r="3.95" fill="#2ecc71"/><circle cx="406.5" cy="123.1" r="3.95" fill="#2ecc71"/><circle cx="518.6" cy="119.4" r="3.95" fill="#2ecc71"/><circle cx="471.4" cy="94.4" r="3.95" fill="#2ecc71"/><circle cx="482.0" cy="106.6" r="3.95" fill="#2ecc71"/><circle cx="424.4" cy="104.5" r="3.95" fill="#2ecc71"/><circle cx="462.0" cy="134.6" r="3.95" fill="#2ecc71"/><circle cx="547.4" cy="111.1" r="3.95" fill="#2ecc71"/><circle cx="503.0" cy="110.7" r="3.95" fill="#2ecc71"/><circle cx="495.6" cy="108.2" r="3.95" fill="#2ecc71"/><circle cx="479.2" cy="110.9" r="3.95" fill="#2ecc71"/><circle cx="486.0" cy="104.4" r="3.95" fill="#2ecc71"/><circle cx="529.9" cy="114.7" r="3.95" fill="#2ecc71"/><circle cx="530.0" cy="99.7" r="3.95" fill="#2ecc71"/><circle cx="461.0" cy="128.6" r="3.95" fill="#2ecc71"/><circle cx="506.0" cy="123.3" r="3.95" fill="#2ecc71"/><circle cx="405.8" cy="137.0" r="3.95" fill="#2ecc71"/><circle cx="445.2" cy="124.8" r="3.95" fill="#2ecc71"/><circle cx="553.9" cy="107.7" r="3.95" fill="#2ecc71"/><circle cx="412.0" cy="106.8" r="3.95" fill="#2ecc71"/><circle cx="429.7" cy="100.2" r="3.95" fill="#2ecc71"/><circle cx="474.2" cy="123.9" r="3.95" fill="#2ecc71"/><circle cx="419.7" cy="119.5" r="3.95" fill="#2ecc71"/><circle cx="450.6" cy="106.8" r="3.95" fill="#2ecc71"/><circle cx="515.5" cy="124.5" r="3.95" fill="#2ecc71"/><circle cx="495.6" cy="114.7" r="3.95" fill="#2ecc71"/><circle cx="488.5" cy="104.2" r="3.95" fill="#2ecc71"/><circle cx="425.0" cy="135.5" r="3.95" fill="#2ecc71"/><circle cx="431.1" cy="122.6" r="3.95" fill="#2ecc71"/><circle cx="557.5" cy="108.3" r="3.95" fill="#2ecc71"/><circle cx="414.1" cy="134.6" r="3.95" fill="#2ecc71"/><circle cx="475.3" cy="119.3" r="3.95" fill="#2ecc71"/><circle cx="428.8" cy="136.5" r="3.95" fill="#2ecc71"/><circle cx="443.0" cy="119.7" r="3.95" fill="#2ecc71"/><circle cx="565.6" cy="103.0" r="3.95" fill="#2ecc71"/><circle cx="451.7" cy="103.7" r="3.95" fill="#2ecc71"/><circle cx="521.3" cy="108.5" r="3.95" fill="#2ecc71"/><circle cx="458.0" cy="126.4" r="3.95" fill="#2ecc71"/><circle cx="468.8" cy="107.0" r="3.95" fill="#2ecc71"/><circle cx="481.8" cy="122.8" r="3.95" fill="#2ecc71"/><circle cx="455.2" cy="124.8" r="3.95" fill="#2ecc71"/><circle cx="480.8" cy="119.4" r="3.95" fill="#2ecc71"/><circle cx="423.7" cy="128.9" r="3.95" fill="#2ecc71"/><circle cx="532.0" cy="112.4" r="3.95" fill="#2ecc71"/><circle cx="430.7" cy="108.4" r="3.95" fill="#2ecc71"/><circle cx="451.6" cy="111.0" r="3.95" fill="#2ecc71"/><circle cx="530.8" cy="106.9" r="3.95" fill="#2ecc71"/><circle cx="550.6" cy="111.8" r="3.95" fill="#2ecc71"/><circle cx="447.6" cy="96.0" r="3.95" fill="#2ecc71"/><circle cx="510.6" cy="106.4" r="3.95" fill="#2ecc71"/><circle cx="453.1" cy="127.7" r="3.95" fill="#2ecc71"/><circle cx="538.1" cy="107.9" r="3.95" fill="#2ecc71"/><circle cx="478.4" cy="123.7" r="3.95" fill="#2ecc71"/><circle cx="417.4" cy="123.2" r="3.95" fill="#2ecc71"/><circle cx="415.4" cy="107.5" r="3.95" fill="#2ecc71"/><circle cx="407.4" cy="114.2" r="3.95" fill="#2ecc71"/><circle cx="541.6" cy="111.1" r="3.95" fill="#2ecc71"/><circle cx="434.4" cy="128.0" r="3.95" fill="#2ecc71"/><circle cx="411.2" cy="99.4" r="3.95" fill="#2ecc71"/><circle cx="453.3" cy="120.7" r="3.95" fill="#2ecc71"/><circle cx="442.2" cy="129.0" r="3.95" fill="#2ecc71"/><circle cx="536.1" cy="112.2" r="3.95" fill="#2ecc71"/><circle cx="472.2" cy="128.3" r="3.95" fill="#2ecc71"/><circle cx="407.2" cy="133.0" r="3.95" fill="#2ecc71"/><circle cx="440.2" cy="107.5" r="3.95" fill="#2ecc71"/><circle cx="424.8" cy="132.3" r="3.95" fill="#2ecc71"/><circle cx="416.4" cy="99.1" r="3.95" fill="#2ecc71"/><circle cx="535.4" cy="91.8" r="3.95" fill="#2ecc71"/><circle cx="459.9" cy="98.6" r="3.95" fill="#2ecc71"/><circle cx="523.7" cy="116.4" r="3.95" fill="#2ecc71"/><circle cx="458.3" cy="115.4" r="3.95" fill="#2ecc71"/><circle cx="464.7" cy="128.2" r="3.95" fill="#2ecc71"/><circle cx="541.3" cy="103.8" r="3.95" fill="#2ecc71"/><circle cx="537.0" cy="104.0" r="3.95" fill="#2ecc71"/><circle cx="447.7" cy="128.6" r="3.95" fill="#2ecc71"/><circle cx="446.1" cy="106.2" r="3.95" fill="#2ecc71"/><circle cx="486.0" cy="124.1" r="3.95" fill="#2ecc71"/><circle cx="446.3" cy="110.1" r="3.95" fill="#2ecc71"/><circle cx="505.1" cy="99.0" r="3.95" fill="#2ecc71"/><circle cx="465.8" cy="94.1" r="3.95" fill="#2ecc71"/><circle cx="432.3" cy="136.8" r="3.95" fill="#2ecc71"/><circle cx="460.6" cy="120.5" r="3.95" fill="#2ecc71"/><circle cx="520.6" cy="98.2" r="3.95" fill="#2ecc71"/><circle cx="472.3" cy="116.7" r="3.95" fill="#2ecc71"/><circle cx="426.3" cy="107.0" r="3.95" fill="#2ecc71"/><circle cx="567.2" cy="90.1" r="3.95" fill="#2ecc71"/><circle cx="419.0" cy="134.8" r="3.95" fill="#2ecc71"/><circle cx="516.6" cy="110.4" r="3.95" fill="#2ecc71"/><circle cx="554.2" cy="104.0" r="3.95" fill="#2ecc71"/><circle cx="458.1" cy="123.1" r="3.95" fill="#2ecc71"/><circle cx="524.7" cy="107.7" r="3.95" fill="#2ecc71"/><circle cx="493.1" cy="99.5" r="3.95" fill="#2ecc71"/><circle cx="414.2" cy="126.7" r="3.95" fill="#2ecc71"/><circle cx="500.9" cy="100.6" r="3.95" fill="#2ecc71"/><circle cx="445.4" cy="114.3" r="3.95" fill="#2ecc71"/><circle cx="433.5" cy="118.3" r="3.95" fill="#2ecc71"/><circle cx="462.1" cy="111.2" r="3.95" fill="#2ecc71"/><circle cx="469.8" cy="131.9" r="3.95" fill="#2ecc71"/><circle cx="464.7" cy="106.2" r="3.95" fill="#2ecc71"/><circle cx="445.4" cy="100.0" r="3.95" fill="#2ecc71"/><circle cx="507.4" cy="103.6" r="3.95" fill="#2ecc71"/><circle cx="463.8" cy="99.1" r="3.95" fill="#2ecc71"/><circle cx="570.0" cy="104.1" r="3.95" fill="#2ecc71"/><circle cx="413.4" cy="93.9" r="3.95" fill="#2ecc71"/><circle cx="446.5" cy="103.6" r="3.95" fill="#2ecc71"/><circle cx="427.1" cy="122.3" r="3.95" fill="#2ecc71"/><circle cx="410.0" cy="104.3" r="3.95" fill="#2ecc71"/><circle cx="450.3" cy="99.2" r="3.95" fill="#2ecc71"/><circle cx="483.1" cy="116.5" r="3.95" fill="#2ecc71"/><circle cx="414.8" cy="120.2" r="3.95" fill="#2ecc71"/><circle cx="467.6" cy="124.2" r="3.95" fill="#2ecc71"/><circle cx="468.5" cy="114.3" r="3.95" fill="#2ecc71"/><circle cx="435.0" cy="107.8" r="3.95" fill="#2ecc71"/><circle cx="451.0" cy="115.9" r="3.95" fill="#2ecc71"/><circle cx="458.0" cy="103.7" r="3.95" fill="#2ecc71"/><circle cx="524.3" cy="98.5" r="3.95" fill="#2ecc71"/><circle cx="532.2" cy="94.6" r="3.95" fill="#2ecc71"/><circle cx="513.9" cy="120.1" r="3.95" fill="#2ecc71"/><circle cx="405.7" cy="112.1" r="3.95" fill="#2ecc71"/><circle cx="422.8" cy="107.0" r="3.95" fill="#2ecc71"/><circle cx="409.9" cy="120.0" r="3.95" fill="#2ecc71"/><circle cx="452.6" cy="94.5" r="3.95" fill="#2ecc71"/><circle cx="419.1" cy="103.0" r="3.95" fill="#2ecc71"/><circle cx="435.7" cy="131.1" r="3.95" fill="#2ecc71"/><circle cx="550.7" cy="102.0" r="3.95" fill="#2ecc71"/><circle cx="411.0" cy="116.9" r="3.95" fill="#2ecc71"/><circle cx="572.1" cy="98.2" r="3.95" fill="#2ecc71"/><circle cx="474.4" cy="100.2" r="3.95" fill="#2ecc71"/><circle cx="515.3" cy="106.8" r="3.95" fill="#2ecc71"/><circle cx="476.5" cy="126.5" r="3.95" fill="#2ecc71"/><circle cx="434.5" cy="102.8" r="3.95" fill="#2ecc71"/><circle cx="528.0" cy="110.4" r="3.95" fill="#2ecc71"/><circle cx="512.7" cy="112.2" r="3.95" fill="#2ecc71"/><circle cx="408.4" cy="95.3" r="3.95" fill="#2ecc71"/><circle cx="526.0" cy="101.9" r="3.95" fill="#2ecc71"/><circle cx="531.9" cy="104.2" r="3.95" fill="#2ecc71"/><circle cx="411.5" cy="122.9" r="3.95" fill="#2ecc71"/><circle cx="422.5" cy="120.3" r="3.95" fill="#2ecc71"/><circle cx="486.1" cy="110.3" r="3.95" fill="#2ecc71"/><circle cx="418.6" cy="128.2" r="3.95" fill="#2ecc71"/><circle cx="420.4" cy="131.4" r="3.95" fill="#2ecc71"/><circle cx="444.7" cy="131.1" r="3.95" fill="#2ecc71"/><circle cx="498.3" cy="111.0" r="3.95" fill="#2ecc71"/><circle cx="434.5" cy="111.0" r="3.95" fill="#2ecc71"/><circle cx="496.3" cy="123.5" r="3.95" fill="#2ecc71"/><circle cx="516.6" cy="100.6" r="3.95" fill="#2ecc71"/><circle cx="502.8" cy="104.1" r="3.95" fill="#2ecc71"/><circle cx="538.0" cy="94.8" r="3.95" fill="#2ecc71"/><circle cx="478.8" cy="115.6" r="3.95" fill="#2ecc71"/><circle cx="436.8" cy="128.5" r="3.95" fill="#2ecc71"/><circle cx="562.0" cy="108.4" r="3.95" fill="#2ecc71"/><circle cx="498.5" cy="119.7" r="3.95" fill="#2ecc71"/><circle cx="440.1" cy="131.7" r="3.95" fill="#2ecc71"/><circle cx="510.0" cy="122.9" r="3.95" fill="#2ecc71"/><circle cx="421.3" cy="123.4" r="3.95" fill="#2ecc71"/><circle cx="509.5" cy="98.1" r="3.95" fill="#2ecc71"/><circle cx="563.0" cy="98.9" r="3.95" fill="#2ecc71"/><circle cx="410.7" cy="112.6" r="3.95" fill="#2ecc71"/><circle cx="415.8" cy="132.0" r="3.95" fill="#2ecc71"/><circle cx="564.0" cy="95.4" r="3.95" fill="#2ecc71"/><circle cx="469.7" cy="100.1" r="3.95" fill="#2ecc71"/><circle cx="473.2" cy="108.3" r="3.95" fill="#2ecc71"/><circle cx="418.5" cy="111.8" r="3.95" fill="#2ecc71"/><circle cx="446.4" cy="120.8" r="3.95" fill="#2ecc71"/><circle cx="544.9" cy="94.6" r="3.95" fill="#2ecc71"/><circle cx="439.3" cy="114.5" r="3.95" fill="#2ecc71"/><circle cx="460.0" cy="103.2" r="3.95" fill="#2ecc71"/><circle cx="437.0" cy="118.5" r="3.95" fill="#2ecc71"/><circle cx="405.3" cy="94.9" r="3.95" fill="#2ecc71"/><circle cx="456.5" cy="95.2" r="3.95" fill="#2ecc71"/><circle cx="522.4" cy="119.1" r="3.95" fill="#2ecc71"/><circle cx="508.7" cy="111.0" r="3.95" fill="#2ecc71"/><circle cx="459.5" cy="107.1" r="3.95" fill="#2ecc71"/><circle cx="487.1" cy="106.6" r="3.95" fill="#2ecc71"/><circle cx="405.6" cy="92.0" r="3.95" fill="#2ecc71"/><circle cx="405.6" cy="98.4" r="3.95" fill="#2ecc71"/><circle cx="405.6" cy="104.8" r="3.95" fill="#2ecc71"/><circle cx="405.6" cy="111.2" r="3.95" fill="#2ecc71"/><circle cx="405.6" cy="117.6" r="3.95" fill="#2ecc71"/><circle cx="405.6" cy="124.0" r="3.95" fill="#2ecc71"/><circle cx="405.6" cy="130.4" r="3.95" fill="#2ecc71"/><circle cx="405.6" cy="136.8" r="3.95" fill="#2ecc71"/><circle cx="414.3" cy="93.0" r="3.95" fill="#2ecc71"/><circle cx="414.3" cy="99.6" r="3.95" fill="#2ecc71"/><circle cx="414.3" cy="106.2" r="3.95" fill="#2ecc71"/><circle cx="414.3" cy="112.8" r="3.95" fill="#2ecc71"/><circle cx="414.3" cy="119.4" r="3.95" fill="#2ecc71"/><circle cx="414.3" cy="126.0" r="3.95" fill="#2ecc71"/><circle cx="414.3" cy="132.6" r="3.95" fill="#2ecc71"/><circle cx="405.6" cy="72.5" r="3.95" fill="#2ecc71"/><circle cx="405.6" cy="80.2" r="3.95" fill="#2ecc71"/><circle cx="413.6" cy="68.3" r="3.95" fill="#2ecc71"/><circle cx="421.4" cy="70.3" r="3.95" fill="#2ecc71"/><circle cx="469.0" cy="63.7" r="3.95" fill="#2ecc71"/><circle cx="480.4" cy="71.7" r="3.95" fill="#2ecc71"/><circle cx="482.9" cy="79.7" r="3.95" fill="#2ecc71"/><circle cx="480.0" cy="81.0" r="3.95" fill="#2ecc71"/><circle cx="466.8" cy="80.5" r="3.95" fill="#2ecc71"/><circle cx="470.2" cy="89.9" r="3.95" fill="#2ecc71"/><circle cx="437.9" cy="93.8" r="3.95" fill="#2ecc71"/><circle cx="447.2" cy="90.7" r="3.95" fill="#2ecc71"/><circle cx="451.2" cy="98.0" r="3.95" fill="#2ecc71"/><circle cx="459.1" cy="93.8" r="3.95" fill="#2ecc71"/><circle cx="414.1" cy="90.4" r="3.95" fill="#2ecc71"/><circle cx="405.6" cy="92.1" r="3.95" fill="#2ecc71"/><circle cx="428.6" cy="100.6" r="3.95" fill="#2ecc71"/><circle cx="420.1" cy="97.2" r="3.95" fill="#2ecc71"/><circle cx="405.6" cy="137.1" r="3.95" fill="#2ecc71"/><circle cx="411.6" cy="137.9" r="3.95" fill="#2ecc71"/><circle cx="418.4" cy="139.6" r="3.95" fill="#2ecc71"/><circle cx="432.0" cy="140.1" r="3.95" fill="#2ecc71"/><circle cx="436.7" cy="139.1" r="3.95" fill="#2ecc71"/><circle cx="439.6" cy="143.0" r="3.95" fill="#2ecc71"/><circle cx="442.2" cy="133.7" r="3.95" fill="#2ecc71"/><circle cx="451.5" cy="134.5" r="3.95" fill="#2ecc71"/><circle cx="460.8" cy="136.2" r="3.95" fill="#2ecc71"/><circle cx="465.9" cy="141.3" r="3.95" fill="#2ecc71"/><circle cx="468.5" cy="135.4" r="3.95" fill="#2ecc71"/><circle cx="477.8" cy="131.1" r="3.95" fill="#2ecc71"/><circle cx="483.8" cy="126.9" r="3.95" fill="#2ecc71"/><circle cx="482.9" cy="103.1" r="3.95" fill="#2ecc71"/><circle cx="481.4" cy="71.7" r="3.95" fill="#2ecc71"/><circle cx="483.1" cy="79.7" r="3.95" fill="#2ecc71"/><circle cx="530.1" cy="83.1" r="3.95" fill="#2ecc71"/><circle cx="537.7" cy="80.2" r="3.95" fill="#2ecc71"/><circle cx="543.7" cy="83.6" r="3.95" fill="#2ecc71"/><circle cx="544.9" cy="87.5" r="3.95" fill="#2ecc71"/><circle cx="529.2" cy="91.2" r="3.95" fill="#2ecc71"/><circle cx="538.6" cy="91.2" r="3.95" fill="#2ecc71"/><circle cx="548.3" cy="92.9" r="3.95" fill="#2ecc71"/><circle cx="551.3" cy="96.0" r="3.95" fill="#2ecc71"/><circle cx="525.8" cy="97.2" r="3.95" fill="#2ecc71"/><circle cx="516.0" cy="94.6" r="3.95" fill="#2ecc71"/><circle cx="509.7" cy="96.3" r="3.95" fill="#2ecc71"/><circle cx="494.4" cy="98.0" r="3.95" fill="#2ecc71"/><circle cx="547.1" cy="99.7" r="3.95" fill="#2ecc71"/><circle cx="568.3" cy="70.8" r="3.95" fill="#2ecc71"/><circle cx="568.3" cy="81.0" r="3.95" fill="#2ecc71"/><circle cx="564.9" cy="89.5" r="3.95" fill="#2ecc71"/><circle cx="563.2" cy="94.6" r="3.95" fill="#2ecc71"/><circle cx="483.4" cy="126.9" r="3.95" fill="#2ecc71"/><circle cx="496.1" cy="127.4" r="3.95" fill="#2ecc71"/><circle cx="507.2" cy="125.2" r="3.95" fill="#2ecc71"/><circle cx="508.9" cy="131.6" r="3.95" fill="#2ecc71"/><circle cx="517.7" cy="128.6" r="3.95" fill="#2ecc71"/><circle cx="524.5" cy="128.6" r="3.95" fill="#2ecc71"/><circle cx="515.3" cy="121.8" r="3.95" fill="#2ecc71"/><circle cx="525.8" cy="116.7" r="3.95" fill="#2ecc71"/><circle cx="532.6" cy="115.8" r="3.95" fill="#2ecc71"/><circle cx="539.4" cy="117.5" r="3.95" fill="#2ecc71"/><circle cx="547.9" cy="117.5" r="3.95" fill="#2ecc71"/><circle cx="549.6" cy="112.5" r="3.95" fill="#2ecc71"/><circle cx="502.1" cy="121.0" r="3.95" fill="#2ecc71"/><circle cx="490.2" cy="123.5" r="3.95" fill="#2ecc71"/><circle cx="568.6" cy="71.8" r="3.95" fill="#2ecc71"/><circle cx="570.5" cy="81.3" r="3.95" fill="#2ecc71"/><circle cx="574.9" cy="82.4" r="3.95" fill="#2ecc71"/><circle cx="567.6" cy="86.4" r="3.95" fill="#2ecc71"/><circle cx="564.7" cy="90.0" r="3.95" fill="#2ecc71"/><circle cx="567.6" cy="92.7" r="3.95" fill="#2ecc71"/><circle cx="562.5" cy="95.1" r="3.95" fill="#2ecc71"/><circle cx="562.5" cy="98.8" r="3.95" fill="#2ecc71"/><circle cx="566.9" cy="101.7" r="3.95" fill="#2ecc71"/><circle cx="572.0" cy="102.4" r="3.95" fill="#2ecc71"/><circle cx="576.4" cy="97.3" r="3.95" fill="#2ecc71"/><circle cx="558.9" cy="105.4" r="3.95" fill="#2ecc71"/><circle cx="553.0" cy="104.6" r="3.95" fill="#2ecc71"/><circle cx="550.1" cy="112.7" r="3.95" fill="#2ecc71"/><circle cx="547.9" cy="117.8" r="3.95" fill="#2ecc71"/><circle cx="545.7" cy="84.2" r="3.95" fill="#2ecc71"/><circle cx="548.6" cy="93.0" r="3.95" fill="#2ecc71"/><circle cx="552.3" cy="95.9" r="3.95" fill="#2ecc71"/><circle cx="547.9" cy="100.3" r="3.95" fill="#2ecc71"/><circle cx="556.0" cy="110.5" r="3.95" fill="#2ecc71"/><circle cx="558.1" cy="118.4" r="3.95" fill="#e74c3c"/><circle cx="566.6" cy="116.7" r="3.95" fill="#e74c3c"/><circle cx="567.5" cy="111.6" r="3.95" fill="#e74c3c"/><circle cx="582.7" cy="90.8" r="3.95" fill="#e74c3c"/><circle cx="580.0" cy="96.6" r="3.95" fill="#e74c3c"/><circle cx="596.1" cy="98.5" r="3.95" fill="#e74c3c"/><circle cx="583.0" cy="103.9" r="3.95" fill="#e74c3c"/><circle cx="587.3" cy="105.4" r="3.95" fill="#e74c3c"/><circle cx="593.9" cy="105.8" r="3.95" fill="#e74c3c"/><circle cx="582.7" cy="110.2" r="3.95" fill="#e74c3c"/><circle cx="588.1" cy="113.1" r="3.95" fill="#e74c3c"/><circle cx="591.7" cy="111.2" r="3.95" fill="#e74c3c"/><circle cx="595.4" cy="110.5" r="3.95" fill="#e74c3c"/><circle cx="572.4" cy="110.8" r="3.95" fill="#e74c3c"/><circle cx="566.9" cy="111.9" r="3.95" fill="#e74c3c"/><circle cx="566.2" cy="117.5" r="3.95" fill="#e74c3c"/><circle cx="558.4" cy="119.2" r="3.95" fill="#e74c3c"/><circle cx="604.1" cy="121.0" r="3.95" fill="#e74c3c"/><circle cx="615.8" cy="114.1" r="3.95" fill="#e74c3c"/><circle cx="615.1" cy="126.8" r="3.95" fill="#e74c3c"/><circle cx="628.1" cy="103.0" r="3.95" fill="#e74c3c"/><circle cx="626.0" cy="106.0" r="3.95" fill="#e74c3c"/><circle cx="633.8" cy="126.6" r="3.95" fill="#e74c3c"/><circle cx="642.2" cy="113.5" r="3.95" fill="#e74c3c"/><circle cx="645.5" cy="117.4" r="3.95" fill="#e74c3c"/><circle cx="654.9" cy="116.1" r="3.95" fill="#e74c3c"/></g>
<line x1="400.7" y1="278.7" x2="669.2" y2="1.75" stroke="#303030" stroke-width="1.85" stroke-dasharray="6.4 2.8"/>
<line x1="400.7" y1="-1" x2="400.7" y2="279.3" stroke="#262626" stroke-width="1.3"/>
<line x1="400.09999999999997" y1="278.7" x2="670.8" y2="278.7" stroke="#262626" stroke-width="1.3"/>
<line x1="405.7" y1="278.7" x2="405.7" y2="284.7" stroke="#262626" stroke-width="1.1"/>
<text x="405.7" y="303.6" text-anchor="middle" class="t" style="font-size:15.2px">0.0</text>
<line x1="485.07" y1="278.7" x2="485.07" y2="284.7" stroke="#262626" stroke-width="1.1"/>
<text x="485.07" y="303.6" text-anchor="middle" class="t" style="font-size:15.2px">0.3</text>
<line x1="564.44" y1="278.7" x2="564.44" y2="284.7" stroke="#262626" stroke-width="1.1"/>
<text x="564.44" y="303.6" text-anchor="middle" class="t" style="font-size:15.2px">0.6</text>
<line x1="643.81" y1="278.7" x2="643.81" y2="284.7" stroke="#262626" stroke-width="1.1"/>
<text x="643.81" y="303.6" text-anchor="middle" class="t" style="font-size:15.2px">0.9</text>
<line x1="394.9" y1="273.9" x2="400.7" y2="273.9" stroke="#262626" stroke-width="1.1"/>
<text x="386.5" y="278.5" text-anchor="end" class="t" style="font-size:15.2px">0.0</text>
<line x1="394.9" y1="191.82999999999998" x2="400.7" y2="191.82999999999998" stroke="#262626" stroke-width="1.1"/>
<text x="386.5" y="196.42999999999998" text-anchor="end" class="t" style="font-size:15.2px">0.3</text>
<line x1="394.9" y1="109.75999999999999" x2="400.7" y2="109.75999999999999" stroke="#262626" stroke-width="1.1"/>
<text x="386.5" y="114.35999999999999" text-anchor="end" class="t" style="font-size:15.2px">0.6</text>
<line x1="394.9" y1="27.689999999999998" x2="400.7" y2="27.689999999999998" stroke="#262626" stroke-width="1.1"/>
<text x="386.5" y="32.29" text-anchor="end" class="t" style="font-size:15.2px">0.9</text>
<text x="535.0" y="322.5" text-anchor="middle" class="l" style="font-size:17.3px">ELMComUnbal</text>
<text transform="translate(360.4,139.8) rotate(-90)" x="0" y="0" text-anchor="middle" class="l" style="font-size:17.3px">ELMComBal</text>
<text x="530.4" y="353.6" text-anchor="middle" class="g">(b)</text>
<g stroke="#fff" stroke-width="0.6"><circle cx="211.4" cy="470.3" r="3.95" fill="#2ecc71"/><circle cx="90.0" cy="447.0" r="3.95" fill="#2ecc71"/><circle cx="209.7" cy="447.3" r="3.95" fill="#2ecc71"/><circle cx="79.0" cy="460.0" r="3.95" fill="#2ecc71"/><circle cx="200.8" cy="480.3" r="3.95" fill="#2ecc71"/><circle cx="75.7" cy="470.2" r="3.95" fill="#2ecc71"/><circle cx="149.8" cy="451.1" r="3.95" fill="#2ecc71"/><circle cx="95.3" cy="448.3" r="3.95" fill="#2ecc71"/><circle cx="123.7" cy="465.9" r="3.95" fill="#2ecc71"/><circle cx="75.6" cy="459.3" r="3.95" fill="#2ecc71"/><circle cx="194.4" cy="457.3" r="3.95" fill="#2ecc71"/><circle cx="101.4" cy="462.1" r="3.95" fill="#2ecc71"/><circle cx="118.4" cy="475.7" r="3.95" fill="#2ecc71"/><circle cx="127.3" cy="466.2" r="3.95" fill="#2ecc71"/><circle cx="147.8" cy="476.1" r="3.95" fill="#2ecc71"/><circle cx="126.4" cy="461.3" r="3.95" fill="#2ecc71"/><circle cx="175.7" cy="465.9" r="3.95" fill="#2ecc71"/><circle cx="131.6" cy="461.1" r="3.95" fill="#2ecc71"/><circle cx="97.7" cy="473.0" r="3.95" fill="#2ecc71"/><circle cx="124.4" cy="456.1" r="3.95" fill="#2ecc71"/><circle cx="219.1" cy="457.7" r="3.95" fill="#2ecc71"/><circle cx="99.0" cy="464.0" r="3.95" fill="#2ecc71"/><circle cx="214.9" cy="463.1" r="3.95" fill="#2ecc71"/><circle cx="86.8" cy="459.6" r="3.95" fill="#2ecc71"/><circle cx="139.1" cy="466.7" r="3.95" fill="#2ecc71"/><circle cx="229.1" cy="451.7" r="3.95" fill="#2ecc71"/><circle cx="178.8" cy="477.4" r="3.95" fill="#2ecc71"/><circle cx="117.2" cy="489.1" r="3.95" fill="#2ecc71"/><circle cx="79.6" cy="481.6" r="3.95" fill="#2ecc71"/><circle cx="179.4" cy="462.7" r="3.95" fill="#2ecc71"/><circle cx="131.6" cy="479.8" r="3.95" fill="#2ecc71"/><circle cx="219.7" cy="461.6" r="3.95" fill="#2ecc71"/><circle cx="200.4" cy="473.6" r="3.95" fill="#2ecc71"/><circle cx="212.8" cy="452.9" r="3.95" fill="#2ecc71"/><circle cx="135.2" cy="454.5" r="3.95" fill="#2ecc71"/><circle cx="86.1" cy="470.6" r="3.95" fill="#2ecc71"/><circle cx="94.6" cy="480.7" r="3.95" fill="#2ecc71"/><circle cx="128.1" cy="472.9" r="3.95" fill="#2ecc71"/><circle cx="133.5" cy="485.5" r="3.95" fill="#2ecc71"/><circle cx="190.0" cy="466.2" r="3.95" fill="#2ecc71"/><circle cx="65.2" cy="442.1" r="3.95" fill="#2ecc71"/><circle cx="161.2" cy="475.3" r="3.95" fill="#2ecc71"/><circle cx="206.0" cy="457.3" r="3.95" fill="#2ecc71"/><circle cx="182.9" cy="468.5" r="3.95" fill="#2ecc71"/><circle cx="165.2" cy="457.7" r="3.95" fill="#2ecc71"/><circle cx="76.6" cy="454.7" r="3.95" fill="#2ecc71"/><circle cx="151.3" cy="458.1" r="3.95" fill="#2ecc71"/><circle cx="217.0" cy="466.7" r="3.95" fill="#2ecc71"/><circle cx="153.7" cy="473.6" r="3.95" fill="#2ecc71"/><circle cx="113.3" cy="482.5" r="3.95" fill="#2ecc71"/><circle cx="196.6" cy="482.3" r="3.95" fill="#2ecc71"/><circle cx="223.3" cy="454.4" r="3.95" fill="#2ecc71"/><circle cx="171.9" cy="461.4" r="3.95" fill="#2ecc71"/><circle cx="101.7" cy="453.1" r="3.95" fill="#2ecc71"/><circle cx="201.1" cy="467.5" r="3.95" fill="#2ecc71"/><circle cx="231.9" cy="455.8" r="3.95" fill="#2ecc71"/><circle cx="66.0" cy="474.3" r="3.95" fill="#2ecc71"/><circle cx="105.6" cy="448.9" r="3.95" fill="#2ecc71"/><circle cx="199.5" cy="448.7" r="3.95" fill="#2ecc71"/><circle cx="105.2" cy="468.9" r="3.95" fill="#2ecc71"/><circle cx="131.0" cy="476.2" r="3.95" fill="#2ecc71"/><circle cx="112.0" cy="466.5" r="3.95" fill="#2ecc71"/><circle cx="224.2" cy="452.0" r="3.95" fill="#2ecc71"/><circle cx="205.7" cy="472.2" r="3.95" fill="#2ecc71"/><circle cx="224.4" cy="469.1" r="3.95" fill="#2ecc71"/><circle cx="65.2" cy="470.1" r="3.95" fill="#2ecc71"/><circle cx="138.6" cy="462.4" r="3.95" fill="#2ecc71"/><circle cx="65.6" cy="447.7" r="3.95" fill="#2ecc71"/><circle cx="149.7" cy="470.4" r="3.95" fill="#2ecc71"/><circle cx="159.8" cy="454.7" r="3.95" fill="#2ecc71"/><circle cx="75.8" cy="447.8" r="3.95" fill="#2ecc71"/><circle cx="142.6" cy="482.4" r="3.95" fill="#2ecc71"/><circle cx="153.1" cy="460.2" r="3.95" fill="#2ecc71"/><circle cx="66.3" cy="461.9" r="3.95" fill="#2ecc71"/><circle cx="101.3" cy="483.8" r="3.95" fill="#2ecc71"/><circle cx="91.5" cy="474.4" r="3.95" fill="#2ecc71"/><circle cx="153.8" cy="483.5" r="3.95" fill="#2ecc71"/><circle cx="79.7" cy="448.9" r="3.95" fill="#2ecc71"/><circle cx="165.6" cy="480.8" r="3.95" fill="#2ecc71"/><circle cx="229.1" cy="464.2" r="3.95" fill="#2ecc71"/><circle cx="175.3" cy="478.9" r="3.95" fill="#2ecc71"/><circle cx="73.3" cy="474.4" r="3.95" fill="#2ecc71"/><circle cx="91.4" cy="487.0" r="3.95" fill="#2ecc71"/><circle cx="211.9" cy="451.7" r="3.95" fill="#2ecc71"/><circle cx="72.5" cy="491.5" r="3.95" fill="#2ecc71"/><circle cx="78.6" cy="443.4" r="3.95" fill="#2ecc71"/><circle cx="197.6" cy="470.9" r="3.95" fill="#2ecc71"/><circle cx="104.8" cy="476.3" r="3.95" fill="#2ecc71"/><circle cx="69.1" cy="468.2" r="3.95" fill="#2ecc71"/><circle cx="70.2" cy="483.1" r="3.95" fill="#2ecc71"/><circle cx="141.7" cy="470.4" r="3.95" fill="#2ecc71"/><circle cx="93.1" cy="454.4" r="3.95" fill="#2ecc71"/><circle cx="83.8" cy="485.4" r="3.95" fill="#2ecc71"/><circle cx="192.0" cy="476.8" r="3.95" fill="#2ecc71"/><circle cx="83.7" cy="453.2" r="3.95" fill="#2ecc71"/><circle cx="117.2" cy="457.9" r="3.95" fill="#2ecc71"/><circle cx="101.3" cy="468.8" r="3.95" fill="#2ecc71"/><circle cx="157.8" cy="483.3" r="3.95" fill="#2ecc71"/><circle cx="71.3" cy="455.7" r="3.95" fill="#2ecc71"/><circle cx="107.2" cy="479.8" r="3.95" fill="#2ecc71"/><circle cx="169.3" cy="473.4" r="3.95" fill="#2ecc71"/><circle cx="189.0" cy="457.4" r="3.95" fill="#2ecc71"/><circle cx="126.9" cy="457.0" r="3.95" fill="#2ecc71"/><circle cx="184.0" cy="476.0" r="3.95" fill="#2ecc71"/><circle cx="67.2" cy="438.7" r="3.95" fill="#2ecc71"/><circle cx="145.3" cy="455.8" r="3.95" fill="#2ecc71"/><circle cx="187.6" cy="480.5" r="3.95" fill="#2ecc71"/><circle cx="160.2" cy="470.3" r="3.95" fill="#2ecc71"/><circle cx="123.2" cy="483.8" r="3.95" fill="#2ecc71"/><circle cx="94.2" cy="469.4" r="3.95" fill="#2ecc71"/><circle cx="192.5" cy="463.2" r="3.95" fill="#2ecc71"/><circle cx="117.7" cy="462.9" r="3.95" fill="#2ecc71"/><circle cx="140.7" cy="486.8" r="3.95" fill="#2ecc71"/><circle cx="110.1" cy="461.0" r="3.95" fill="#2ecc71"/><circle cx="173.9" cy="457.2" r="3.95" fill="#2ecc71"/><circle cx="112.1" cy="475.0" r="3.95" fill="#2ecc71"/><circle cx="85.5" cy="443.5" r="3.95" fill="#2ecc71"/><circle cx="135.3" cy="479.9" r="3.95" fill="#2ecc71"/><circle cx="65.4" cy="488.6" r="3.95" fill="#2ecc71"/><circle cx="109.7" cy="456.7" r="3.95" fill="#2ecc71"/><circle cx="184.7" cy="461.3" r="3.95" fill="#2ecc71"/><circle cx="149.3" cy="461.4" r="3.95" fill="#2ecc71"/><circle cx="79.2" cy="474.9" r="3.95" fill="#2ecc71"/><circle cx="143.0" cy="475.0" r="3.95" fill="#2ecc71"/><circle cx="199.5" cy="463.1" r="3.95" fill="#2ecc71"/><circle cx="207.1" cy="460.6" r="3.95" fill="#2ecc71"/><circle cx="70.2" cy="442.9" r="3.95" fill="#2ecc71"/><circle cx="169.1" cy="468.9" r="3.95" fill="#2ecc71"/><circle cx="71.9" cy="489.8" r="3.95" fill="#2ecc71"/><circle cx="162.2" cy="462.6" r="3.95" fill="#2ecc71"/><circle cx="85.1" cy="482.5" r="3.95" fill="#2ecc71"/><circle cx="64.4" cy="457.5" r="3.95" fill="#2ecc71"/><circle cx="62.7" cy="419.4" r="3.95" fill="#2ecc71"/><circle cx="63.4" cy="421.6" r="3.95" fill="#2ecc71"/><circle cx="63.2" cy="424.4" r="3.95" fill="#2ecc71"/><circle cx="62.2" cy="426.9" r="3.95" fill="#2ecc71"/><circle cx="62.2" cy="429.1" r="3.95" fill="#2ecc71"/><circle cx="62.2" cy="430.9" r="3.95" fill="#2ecc71"/><circle cx="62.9" cy="434.4" r="3.95" fill="#2ecc71"/><circle cx="62.3" cy="435.7" r="3.95" fill="#2ecc71"/><circle cx="63.4" cy="439.2" r="3.95" fill="#2ecc71"/><circle cx="63.3" cy="440.6" r="3.95" fill="#2ecc71"/><circle cx="64.1" cy="442.4" r="3.95" fill="#2ecc71"/><circle cx="63.8" cy="445.0" r="3.95" fill="#2ecc71"/><circle cx="62.4" cy="447.1" r="3.95" fill="#2ecc71"/><circle cx="62.7" cy="450.5" r="3.95" fill="#2ecc71"/><circle cx="62.5" cy="452.4" r="3.95" fill="#2ecc71"/><circle cx="63.4" cy="454.4" r="3.95" fill="#2ecc71"/><circle cx="63.2" cy="456.2" r="3.95" fill="#2ecc71"/><circle cx="62.2" cy="458.8" r="3.95" fill="#2ecc71"/><circle cx="63.5" cy="461.4" r="3.95" fill="#2ecc71"/><circle cx="62.7" cy="464.0" r="3.95" fill="#2ecc71"/><circle cx="63.0" cy="465.8" r="3.95" fill="#2ecc71"/><circle cx="63.7" cy="468.8" r="3.95" fill="#2ecc71"/><circle cx="62.6" cy="470.9" r="3.95" fill="#2ecc71"/><circle cx="63.2" cy="473.7" r="3.95" fill="#2ecc71"/><circle cx="63.6" cy="475.0" r="3.95" fill="#2ecc71"/><circle cx="64.1" cy="477.1" r="3.95" fill="#2ecc71"/><circle cx="62.9" cy="480.4" r="3.95" fill="#2ecc71"/><circle cx="62.4" cy="482.3" r="3.95" fill="#2ecc71"/><circle cx="62.2" cy="484.9" r="3.95" fill="#2ecc71"/><circle cx="63.6" cy="487.0" r="3.95" fill="#2ecc71"/><circle cx="63.9" cy="488.9" r="3.95" fill="#2ecc71"/><circle cx="63.5" cy="491.7" r="3.95" fill="#2ecc71"/><circle cx="63.3" cy="493.8" r="3.95" fill="#2ecc71"/><circle cx="63.8" cy="496.9" r="3.95" fill="#2ecc71"/><circle cx="63.0" cy="498.7" r="3.95" fill="#2ecc71"/><circle cx="62.2" cy="501.1" r="3.95" fill="#2ecc71"/><circle cx="63.4" cy="503.9" r="3.95" fill="#2ecc71"/><circle cx="63.7" cy="505.0" r="3.95" fill="#2ecc71"/><circle cx="62.9" cy="508.0" r="3.95" fill="#2ecc71"/><circle cx="62.1" cy="509.9" r="3.95" fill="#2ecc71"/><circle cx="62.3" cy="406.4" r="3.95" fill="#2ecc71"/><circle cx="72.4" cy="409.1" r="3.95" fill="#2ecc71"/><circle cx="80.7" cy="405.1" r="3.95" fill="#2ecc71"/><circle cx="62.3" cy="412.4" r="3.95" fill="#2ecc71"/><circle cx="62.3" cy="417.9" r="3.95" fill="#2ecc71"/><circle cx="62.3" cy="424.3" r="3.95" fill="#2ecc71"/><circle cx="66.0" cy="429.8" r="3.95" fill="#2ecc71"/><circle cx="66.9" cy="434.4" r="3.95" fill="#2ecc71"/><circle cx="67.8" cy="439.9" r="3.95" fill="#2ecc71"/><circle cx="70.6" cy="446.3" r="3.95" fill="#2ecc71"/><circle cx="66.9" cy="450.9" r="3.95" fill="#2ecc71"/><circle cx="86.2" cy="431.7" r="3.95" fill="#2ecc71"/><circle cx="80.3" cy="438.6" r="3.95" fill="#2ecc71"/><circle cx="83.4" cy="444.5" r="3.95" fill="#2ecc71"/><circle cx="88.0" cy="443.6" r="3.95" fill="#2ecc71"/><circle cx="90.7" cy="449.6" r="3.95" fill="#2ecc71"/><circle cx="76.6" cy="450.0" r="3.95" fill="#2ecc71"/><circle cx="102.7" cy="442.3" r="3.95" fill="#2ecc71"/><circle cx="108.5" cy="444.1" r="3.95" fill="#2ecc71"/><circle cx="108.5" cy="436.8" r="3.95" fill="#2ecc71"/><circle cx="110.9" cy="432.2" r="3.95" fill="#2ecc71"/><circle cx="120.4" cy="416.6" r="3.95" fill="#2ecc71"/><circle cx="120.4" cy="424.7" r="3.95" fill="#2ecc71"/><circle cx="118.2" cy="444.9" r="3.95" fill="#2ecc71"/><circle cx="128.3" cy="450.4" r="3.95" fill="#2ecc71"/><circle cx="132.9" cy="452.2" r="3.95" fill="#2ecc71"/><circle cx="143.0" cy="450.9" r="3.95" fill="#2ecc71"/><circle cx="113.3" cy="450.9" r="3.95" fill="#2ecc71"/><circle cx="118.2" cy="454.0" r="3.95" fill="#2ecc71"/><circle cx="97.2" cy="454.6" r="3.95" fill="#2ecc71"/><circle cx="67.8" cy="461.0" r="3.95" fill="#2ecc71"/><circle cx="80.7" cy="462.4" r="3.95" fill="#2ecc71"/><circle cx="100.8" cy="468.3" r="3.95" fill="#2ecc71"/><circle cx="113.3" cy="466.5" r="3.95" fill="#2ecc71"/><circle cx="107.2" cy="463.7" r="3.95" fill="#2ecc71"/><circle cx="71.5" cy="479.3" r="3.95" fill="#2ecc71"/><circle cx="78.8" cy="484.8" r="3.95" fill="#2ecc71"/><circle cx="85.8" cy="491.2" r="3.95" fill="#2ecc71"/><circle cx="77.0" cy="489.4" r="3.95" fill="#2ecc71"/><circle cx="76.6" cy="495.4" r="3.95" fill="#2ecc71"/><circle cx="70.6" cy="499.8" r="3.95" fill="#2ecc71"/><circle cx="80.7" cy="502.2" r="3.95" fill="#2ecc71"/><circle cx="75.5" cy="508.6" r="3.95" fill="#2ecc71"/><circle cx="81.6" cy="516.9" r="3.95" fill="#2ecc71"/><circle cx="62.3" cy="512.3" r="3.95" fill="#2ecc71"/><circle cx="62.3" cy="524.2" r="3.95" fill="#2ecc71"/><circle cx="94.4" cy="508.3" r="3.95" fill="#2ecc71"/><circle cx="93.5" cy="501.3" r="3.95" fill="#2ecc71"/><circle cx="97.2" cy="498.6" r="3.95" fill="#2ecc71"/><circle cx="95.3" cy="494.9" r="3.95" fill="#2ecc71"/><circle cx="101.7" cy="488.5" r="3.95" fill="#2ecc71"/><circle cx="118.2" cy="494.9" r="3.95" fill="#2ecc71"/><circle cx="121.0" cy="490.3" r="3.95" fill="#2ecc71"/><circle cx="110.0" cy="488.5" r="3.95" fill="#2ecc71"/><circle cx="128.3" cy="510.1" r="3.95" fill="#2ecc71"/><circle cx="133.8" cy="519.3" r="3.95" fill="#2ecc71"/><circle cx="133.8" cy="496.7" r="3.95" fill="#2ecc71"/><circle cx="135.6" cy="489.4" r="3.95" fill="#2ecc71"/><circle cx="143.0" cy="486.6" r="3.95" fill="#2ecc71"/><circle cx="178.5" cy="422.5" r="3.95" fill="#2ecc71"/><circle cx="191.7" cy="425.6" r="3.95" fill="#2ecc71"/><circle cx="217.0" cy="427.6" r="3.95" fill="#2ecc71"/><circle cx="162.9" cy="444.1" r="3.95" fill="#2ecc71"/><circle cx="145.5" cy="450.0" r="3.95" fill="#2ecc71"/><circle cx="157.4" cy="451.8" r="3.95" fill="#2ecc71"/><circle cx="173.9" cy="453.3" r="3.95" fill="#2ecc71"/><circle cx="182.2" cy="455.5" r="3.95" fill="#2ecc71"/><circle cx="190.4" cy="458.2" r="3.95" fill="#2ecc71"/><circle cx="195.0" cy="454.6" r="3.95" fill="#2ecc71"/><circle cx="196.8" cy="450.0" r="3.95" fill="#2ecc71"/><circle cx="202.3" cy="445.4" r="3.95" fill="#2ecc71"/><circle cx="207.8" cy="446.9" r="3.95" fill="#2ecc71"/><circle cx="217.9" cy="449.1" r="3.95" fill="#2ecc71"/><circle cx="207.8" cy="454.6" r="3.95" fill="#2ecc71"/><circle cx="214.2" cy="457.3" r="3.95" fill="#2ecc71"/><circle cx="228.0" cy="451.8" r="3.95" fill="#2ecc71"/><circle cx="226.1" cy="462.4" r="3.95" fill="#2ecc71"/><circle cx="169.3" cy="463.7" r="3.95" fill="#2ecc71"/><circle cx="183.1" cy="463.7" r="3.95" fill="#2ecc71"/><circle cx="176.7" cy="470.1" r="3.95" fill="#2ecc71"/><circle cx="181.2" cy="477.5" r="3.95" fill="#2ecc71"/><circle cx="189.5" cy="471.1" r="3.95" fill="#2ecc71"/><circle cx="195.0" cy="470.1" r="3.95" fill="#2ecc71"/><circle cx="200.5" cy="471.1" r="3.95" fill="#2ecc71"/><circle cx="204.1" cy="473.8" r="3.95" fill="#2ecc71"/><circle cx="209.6" cy="471.1" r="3.95" fill="#2ecc71"/><circle cx="215.1" cy="468.3" r="3.95" fill="#2ecc71"/><circle cx="218.8" cy="469.2" r="3.95" fill="#2ecc71"/><circle cx="224.3" cy="473.8" r="3.95" fill="#2ecc71"/><circle cx="220.6" cy="477.5" r="3.95" fill="#2ecc71"/><circle cx="213.3" cy="481.1" r="3.95" fill="#2ecc71"/><circle cx="198.7" cy="483.0" r="3.95" fill="#2ecc71"/><circle cx="196.8" cy="489.4" r="3.95" fill="#2ecc71"/><circle cx="187.7" cy="484.3" r="3.95" fill="#2ecc71"/><circle cx="191.3" cy="477.5" r="3.95" fill="#2ecc71"/><circle cx="181.2" cy="494.0" r="3.95" fill="#2ecc71"/><circle cx="166.6" cy="484.4" r="3.95" fill="#2ecc71"/><circle cx="161.1" cy="494.9" r="3.95" fill="#2ecc71"/><circle cx="153.7" cy="493.1" r="3.95" fill="#2ecc71"/><circle cx="149.2" cy="485.7" r="3.95" fill="#2ecc71"/><circle cx="143.7" cy="488.5" r="3.95" fill="#2ecc71"/><circle cx="145.5" cy="479.3" r="3.95" fill="#2ecc71"/><circle cx="156.5" cy="479.3" r="3.95" fill="#2ecc71"/><circle cx="162.0" cy="481.1" r="3.95" fill="#2ecc71"/><circle cx="151.0" cy="472.0" r="3.95" fill="#2ecc71"/><circle cx="158.3" cy="468.3" r="3.95" fill="#2ecc71"/><circle cx="141.8" cy="472.0" r="3.95" fill="#2ecc71"/><circle cx="234.5" cy="435.7" r="3.95" fill="#2ecc71"/><circle cx="240.6" cy="438.5" r="3.95" fill="#2ecc71"/><circle cx="239.7" cy="443.6" r="3.95" fill="#2ecc71"/><circle cx="237.5" cy="449.1" r="3.95" fill="#2ecc71"/><circle cx="230.1" cy="452.3" r="3.95" fill="#2ecc71"/><circle cx="242.4" cy="457.0" r="3.95" fill="#2ecc71"/><circle cx="235.6" cy="461.1" r="3.95" fill="#2ecc71"/><circle cx="230.5" cy="460.7" r="3.95" fill="#2ecc71"/><circle cx="226.8" cy="462.9" r="3.95" fill="#2ecc71"/><circle cx="225.9" cy="473.0" r="3.95" fill="#2ecc71"/><circle cx="228.7" cy="474.8" r="3.95" fill="#2ecc71"/><circle cx="163.4" cy="443.9" r="3.95" fill="#2ecc71"/><circle cx="109.2" cy="437.2" r="3.95" fill="#2ecc71"/><circle cx="110.2" cy="432.0" r="3.95" fill="#2ecc71"/><circle cx="108.2" cy="444.3" r="3.95" fill="#2ecc71"/><circle cx="102.0" cy="442.3" r="3.95" fill="#2ecc71"/><circle cx="217.5" cy="449.4" r="3.95" fill="#2ecc71"/><circle cx="233.9" cy="436.1" r="3.95" fill="#2ecc71"/><circle cx="229.8" cy="452.5" r="3.95" fill="#2ecc71"/><circle cx="180.7" cy="493.4" r="3.95" fill="#2ecc71"/><circle cx="197.1" cy="489.3" r="3.95" fill="#2ecc71"/><circle cx="154.2" cy="492.3" r="3.95" fill="#2ecc71"/><circle cx="161.3" cy="494.4" r="3.95" fill="#2ecc71"/><circle cx="133.7" cy="497.0" r="3.95" fill="#2ecc71"/><circle cx="118.4" cy="495.0" r="3.95" fill="#2ecc71"/><circle cx="128.6" cy="508.7" r="3.95" fill="#2ecc71"/><circle cx="229.8" cy="476.6" r="3.95" fill="#e74c3c"/><circle cx="229.8" cy="489.4" r="3.95" fill="#e74c3c"/><circle cx="214.2" cy="507.7" r="3.95" fill="#e74c3c"/><circle cx="249.8" cy="455.9" r="3.95" fill="#e74c3c"/><circle cx="249.8" cy="459.2" r="3.95" fill="#e74c3c"/><circle cx="241.5" cy="463.8" r="3.95" fill="#e74c3c"/><circle cx="247.9" cy="466.6" r="3.95" fill="#e74c3c"/><circle cx="257.7" cy="462.0" r="3.95" fill="#e74c3c"/><circle cx="266.3" cy="458.7" r="3.95" fill="#e74c3c"/><circle cx="253.5" cy="469.3" r="3.95" fill="#e74c3c"/><circle cx="256.6" cy="468.4" r="3.95" fill="#e74c3c"/><circle cx="231.4" cy="477.0" r="3.95" fill="#e74c3c"/><circle cx="231.4" cy="489.2" r="3.95" fill="#e74c3c"/><circle cx="245.2" cy="484.0" r="3.95" fill="#e74c3c"/><circle cx="263.5" cy="477.6" r="3.95" fill="#e74c3c"/><circle cx="260.8" cy="484.0" r="3.95" fill="#e74c3c"/><circle cx="271.8" cy="493.2" r="3.95" fill="#e74c3c"/><circle cx="273.6" cy="491.9" r="3.95" fill="#e74c3c"/><circle cx="280.4" cy="490.4" r="3.95" fill="#e74c3c"/><circle cx="289.6" cy="468.4" r="3.95" fill="#e74c3c"/><circle cx="293.8" cy="474.3" r="3.95" fill="#e74c3c"/><circle cx="302.6" cy="465.7" r="3.95" fill="#e74c3c"/><circle cx="305.4" cy="477.6" r="3.95" fill="#e74c3c"/><circle cx="295.7" cy="495.6" r="3.95" fill="#e74c3c"/><circle cx="314.4" cy="448.2" r="3.95" fill="#e74c3c"/></g>
<line x1="57.5" y1="654.2" x2="326.5" y2="376.4" stroke="#303030" stroke-width="1.85" stroke-dasharray="6.4 2.8"/>
<line x1="57.5" y1="375.4" x2="57.5" y2="654.8000000000001" stroke="#262626" stroke-width="1.3"/>
<line x1="56.9" y1="654.2" x2="327.8" y2="654.2" stroke="#262626" stroke-width="1.3"/>
<line x1="62.6" y1="654.2" x2="62.6" y2="660.2" stroke="#262626" stroke-width="1.1"/>
<text x="62.6" y="678.8" text-anchor="middle" class="t" style="font-size:15.2px">0.0</text>
<line x1="141.87" y1="654.2" x2="141.87" y2="660.2" stroke="#262626" stroke-width="1.1"/>
<text x="141.87" y="678.8" text-anchor="middle" class="t" style="font-size:15.2px">0.3</text>
<line x1="221.14" y1="654.2" x2="221.14" y2="660.2" stroke="#262626" stroke-width="1.1"/>
<text x="221.14" y="678.8" text-anchor="middle" class="t" style="font-size:15.2px">0.6</text>
<line x1="300.41" y1="654.2" x2="300.41" y2="660.2" stroke="#262626" stroke-width="1.1"/>
<text x="300.41" y="678.8" text-anchor="middle" class="t" style="font-size:15.2px">0.9</text>
<line x1="51.7" y1="648.6" x2="57.5" y2="648.6" stroke="#262626" stroke-width="1.1"/>
<text x="44.0" y="653.2" text-anchor="end" class="t" style="font-size:15.2px">0.0</text>
<line x1="51.7" y1="566.7" x2="57.5" y2="566.7" stroke="#262626" stroke-width="1.1"/>
<text x="44.0" y="571.3000000000001" text-anchor="end" class="t" style="font-size:15.2px">0.3</text>
<line x1="51.7" y1="484.8" x2="57.5" y2="484.8" stroke="#262626" stroke-width="1.1"/>
<text x="44.0" y="489.40000000000003" text-anchor="end" class="t" style="font-size:15.2px">0.6</text>
<line x1="51.7" y1="402.9" x2="57.5" y2="402.9" stroke="#262626" stroke-width="1.1"/>
<text x="44.0" y="407.5" text-anchor="end" class="t" style="font-size:15.2px">0.9</text>
<text x="192.0" y="697.9" text-anchor="middle" class="l" style="font-size:17.2px">SVMComUnbal</text>
<text transform="translate(17.1,516.0) rotate(-90)" x="0" y="0" text-anchor="middle" class="l" style="font-size:17.2px">SVMComBal</text>
<text x="184.6" y="731.8" text-anchor="middle" class="g">(c)</text>
<g stroke="#fff" stroke-width="0.6"><circle cx="430.9" cy="479.0" r="3.95" fill="#2ecc71"/><circle cx="467.6" cy="481.9" r="3.95" fill="#2ecc71"/><circle cx="446.9" cy="453.1" r="3.95" fill="#2ecc71"/><circle cx="444.7" cy="482.1" r="3.95" fill="#2ecc71"/><circle cx="440.8" cy="467.2" r="3.95" fill="#2ecc71"/><circle cx="457.0" cy="485.9" r="3.95" fill="#2ecc71"/><circle cx="420.6" cy="482.3" r="3.95" fill="#2ecc71"/><circle cx="482.3" cy="476.9" r="3.95" fill="#2ecc71"/><circle cx="420.4" cy="454.3" r="3.95" fill="#2ecc71"/><circle cx="443.2" cy="477.8" r="3.95" fill="#2ecc71"/><circle cx="453.1" cy="449.3" r="3.95" fill="#2ecc71"/><circle cx="437.5" cy="443.5" r="3.95" fill="#2ecc71"/><circle cx="416.8" cy="453.9" r="3.95" fill="#2ecc71"/><circle cx="421.1" cy="487.4" r="3.95" fill="#2ecc71"/><circle cx="474.0" cy="476.9" r="3.95" fill="#2ecc71"/><circle cx="430.9" cy="457.6" r="3.95" fill="#2ecc71"/><circle cx="455.2" cy="497.7" r="3.95" fill="#2ecc71"/><circle cx="476.7" cy="461.1" r="3.95" fill="#2ecc71"/><circle cx="437.1" cy="490.8" r="3.95" fill="#2ecc71"/><circle cx="467.7" cy="489.0" r="3.95" fill="#2ecc71"/><circle cx="422.7" cy="463.5" r="3.95" fill="#2ecc71"/><circle cx="436.4" cy="452.8" r="3.95" fill="#2ecc71"/><circle cx="459.7" cy="475.5" r="3.95" fill="#2ecc71"/><circle cx="427.2" cy="503.0" r="3.95" fill="#2ecc71"/><circle cx="417.5" cy="472.3" r="3.95" fill="#2ecc71"/><circle cx="457.0" cy="481.0" r="3.95" fill="#2ecc71"/><circle cx="458.7" cy="465.0" r="3.95" fill="#2ecc71"/><circle cx="438.6" cy="457.4" r="3.95" fill="#2ecc71"/><circle cx="415.8" cy="467.9" r="3.95" fill="#2ecc71"/><circle cx="432.5" cy="459.6" r="3.95" fill="#2ecc71"/><circle cx="429.1" cy="452.8" r="3.95" fill="#2ecc71"/><circle cx="434.1" cy="470.4" r="3.95" fill="#2ecc71"/><circle cx="426.2" cy="457.3" r="3.95" fill="#2ecc71"/><circle cx="477.6" cy="486.2" r="3.95" fill="#2ecc71"/><circle cx="446.1" cy="505.2" r="3.95" fill="#2ecc71"/><circle cx="440.9" cy="449.8" r="3.95" fill="#2ecc71"/><circle cx="446.8" cy="498.2" r="3.95" fill="#2ecc71"/><circle cx="436.9" cy="494.7" r="3.95" fill="#2ecc71"/><circle cx="475.0" cy="467.1" r="3.95" fill="#2ecc71"/><circle cx="445.1" cy="454.3" r="3.95" fill="#2ecc71"/><circle cx="467.9" cy="461.8" r="3.95" fill="#2ecc71"/><circle cx="427.8" cy="448.0" r="3.95" fill="#2ecc71"/><circle cx="483.3" cy="502.3" r="3.95" fill="#2ecc71"/><circle cx="460.9" cy="494.4" r="3.95" fill="#2ecc71"/><circle cx="455.1" cy="465.0" r="3.95" fill="#2ecc71"/><circle cx="435.5" cy="460.9" r="3.95" fill="#2ecc71"/><circle cx="431.1" cy="470.6" r="3.95" fill="#2ecc71"/><circle cx="417.9" cy="457.4" r="3.95" fill="#2ecc71"/><circle cx="466.5" cy="477.2" r="3.95" fill="#2ecc71"/><circle cx="445.1" cy="486.2" r="3.95" fill="#2ecc71"/><circle cx="429.7" cy="491.9" r="3.95" fill="#2ecc71"/><circle cx="421.5" cy="492.5" r="3.95" fill="#2ecc71"/><circle cx="429.0" cy="498.7" r="3.95" fill="#2ecc71"/><circle cx="466.2" cy="464.2" r="3.95" fill="#2ecc71"/><circle cx="433.2" cy="468.7" r="3.95" fill="#2ecc71"/><circle cx="423.4" cy="454.9" r="3.95" fill="#2ecc71"/><circle cx="463.1" cy="463.4" r="3.95" fill="#2ecc71"/><circle cx="466.7" cy="504.8" r="3.95" fill="#2ecc71"/><circle cx="419.7" cy="474.5" r="3.95" fill="#2ecc71"/><circle cx="420.8" cy="499.0" r="3.95" fill="#2ecc71"/><circle cx="439.9" cy="494.5" r="3.95" fill="#2ecc71"/><circle cx="471.1" cy="478.9" r="3.95" fill="#2ecc71"/><circle cx="437.0" cy="470.1" r="3.95" fill="#2ecc71"/><circle cx="445.0" cy="478.6" r="3.95" fill="#2ecc71"/><circle cx="482.3" cy="484.7" r="3.95" fill="#2ecc71"/><circle cx="446.8" cy="456.3" r="3.95" fill="#2ecc71"/><circle cx="484.3" cy="474.1" r="3.95" fill="#2ecc71"/><circle cx="434.3" cy="463.3" r="3.95" fill="#2ecc71"/><circle cx="428.3" cy="480.4" r="3.95" fill="#2ecc71"/><circle cx="443.7" cy="489.1" r="3.95" fill="#2ecc71"/><circle cx="440.1" cy="488.6" r="3.95" fill="#2ecc71"/><circle cx="433.6" cy="484.9" r="3.95" fill="#2ecc71"/><circle cx="444.0" cy="459.8" r="3.95" fill="#2ecc71"/><circle cx="477.1" cy="490.9" r="3.95" fill="#2ecc71"/><circle cx="469.2" cy="468.7" r="3.95" fill="#2ecc71"/><circle cx="464.8" cy="474.8" r="3.95" fill="#2ecc71"/><circle cx="465.1" cy="496.1" r="3.95" fill="#2ecc71"/><circle cx="464.9" cy="485.7" r="3.95" fill="#2ecc71"/><circle cx="430.2" cy="463.9" r="3.95" fill="#2ecc71"/><circle cx="439.0" cy="498.4" r="3.95" fill="#2ecc71"/><circle cx="474.9" cy="481.0" r="3.95" fill="#2ecc71"/><circle cx="450.8" cy="482.5" r="3.95" fill="#2ecc71"/><circle cx="470.5" cy="471.3" r="3.95" fill="#2ecc71"/><circle cx="459.0" cy="450.5" r="3.95" fill="#2ecc71"/><circle cx="444.1" cy="501.7" r="3.95" fill="#2ecc71"/><circle cx="442.7" cy="492.5" r="3.95" fill="#2ecc71"/><circle cx="483.5" cy="495.9" r="3.95" fill="#2ecc71"/><circle cx="440.0" cy="461.3" r="3.95" fill="#2ecc71"/><circle cx="434.4" cy="478.6" r="3.95" fill="#2ecc71"/><circle cx="445.4" cy="449.7" r="3.95" fill="#2ecc71"/><circle cx="447.6" cy="445.8" r="3.95" fill="#2ecc71"/><circle cx="474.0" cy="470.3" r="3.95" fill="#2ecc71"/><circle cx="442.8" cy="500.0" r="3.95" fill="#2ecc71"/><circle cx="471.9" cy="502.0" r="3.95" fill="#2ecc71"/><circle cx="462.0" cy="498.7" r="3.95" fill="#2ecc71"/><circle cx="460.3" cy="466.9" r="3.95" fill="#2ecc71"/><circle cx="438.3" cy="478.2" r="3.95" fill="#2ecc71"/><circle cx="432.3" cy="447.7" r="3.95" fill="#2ecc71"/><circle cx="455.3" cy="487.9" r="3.95" fill="#2ecc71"/><circle cx="435.1" cy="488.4" r="3.95" fill="#2ecc71"/><circle cx="426.8" cy="499.7" r="3.95" fill="#2ecc71"/><circle cx="456.8" cy="498.4" r="3.95" fill="#2ecc71"/><circle cx="483.3" cy="489.3" r="3.95" fill="#2ecc71"/><circle cx="484.9" cy="468.4" r="3.95" fill="#2ecc71"/><circle cx="448.3" cy="501.6" r="3.95" fill="#2ecc71"/><circle cx="422.9" cy="475.5" r="3.95" fill="#2ecc71"/><circle cx="481.0" cy="470.4" r="3.95" fill="#2ecc71"/><circle cx="435.5" cy="446.2" r="3.95" fill="#2ecc71"/><circle cx="423.2" cy="450.3" r="3.95" fill="#2ecc71"/><circle cx="452.5" cy="495.7" r="3.95" fill="#2ecc71"/><circle cx="456.6" cy="454.9" r="3.95" fill="#2ecc71"/><circle cx="471.4" cy="481.6" r="3.95" fill="#2ecc71"/><circle cx="433.4" cy="451.3" r="3.95" fill="#2ecc71"/><circle cx="426.4" cy="486.0" r="3.95" fill="#2ecc71"/><circle cx="465.0" cy="499.2" r="3.95" fill="#2ecc71"/><circle cx="423.5" cy="467.1" r="3.95" fill="#2ecc71"/><circle cx="450.1" cy="457.0" r="3.95" fill="#2ecc71"/><circle cx="449.5" cy="492.1" r="3.95" fill="#2ecc71"/><circle cx="471.4" cy="494.4" r="3.95" fill="#2ecc71"/><circle cx="479.3" cy="487.4" r="3.95" fill="#2ecc71"/><circle cx="444.9" cy="495.7" r="3.95" fill="#2ecc71"/><circle cx="457.0" cy="475.7" r="3.95" fill="#2ecc71"/><circle cx="432.1" cy="502.2" r="3.95" fill="#2ecc71"/><circle cx="448.9" cy="463.1" r="3.95" fill="#2ecc71"/><circle cx="436.6" cy="482.4" r="3.95" fill="#2ecc71"/><circle cx="414.9" cy="478.5" r="3.95" fill="#2ecc71"/><circle cx="464.3" cy="488.1" r="3.95" fill="#2ecc71"/><circle cx="479.5" cy="501.9" r="3.95" fill="#2ecc71"/><circle cx="448.8" cy="489.1" r="3.95" fill="#2ecc71"/><circle cx="447.4" cy="461.6" r="3.95" fill="#2ecc71"/><circle cx="415.2" cy="461.7" r="3.95" fill="#2ecc71"/><circle cx="473.0" cy="474.2" r="3.95" fill="#2ecc71"/><circle cx="453.7" cy="505.2" r="3.95" fill="#2ecc71"/><circle cx="432.9" cy="443.8" r="3.95" fill="#2ecc71"/><circle cx="428.4" cy="489.3" r="3.95" fill="#2ecc71"/><circle cx="460.2" cy="501.6" r="3.95" fill="#2ecc71"/><circle cx="475.9" cy="496.3" r="3.95" fill="#2ecc71"/><circle cx="454.2" cy="477.5" r="3.95" fill="#2ecc71"/><circle cx="460.6" cy="481.3" r="3.95" fill="#2ecc71"/><circle cx="431.2" cy="473.8" r="3.95" fill="#2ecc71"/><circle cx="451.7" cy="461.4" r="3.95" fill="#2ecc71"/><circle cx="471.5" cy="461.7" r="3.95" fill="#2ecc71"/><circle cx="441.0" cy="453.0" r="3.95" fill="#2ecc71"/><circle cx="473.1" cy="487.8" r="3.95" fill="#2ecc71"/><circle cx="461.2" cy="492.2" r="3.95" fill="#2ecc71"/><circle cx="438.8" cy="450.4" r="3.95" fill="#2ecc71"/><circle cx="428.9" cy="450.2" r="3.95" fill="#2ecc71"/><circle cx="437.8" cy="465.3" r="3.95" fill="#2ecc71"/><circle cx="423.5" cy="481.3" r="3.95" fill="#2ecc71"/><circle cx="427.6" cy="495.5" r="3.95" fill="#2ecc71"/><circle cx="478.8" cy="471.1" r="3.95" fill="#2ecc71"/><circle cx="421.0" cy="468.2" r="3.95" fill="#2ecc71"/><circle cx="465.1" cy="502.8" r="3.95" fill="#2ecc71"/><circle cx="469.2" cy="484.3" r="3.95" fill="#2ecc71"/><circle cx="479.3" cy="495.4" r="3.95" fill="#2ecc71"/><circle cx="414.6" cy="493.0" r="3.95" fill="#2ecc71"/><circle cx="468.9" cy="504.6" r="3.95" fill="#2ecc71"/><circle cx="418.7" cy="450.2" r="3.95" fill="#2ecc71"/><circle cx="459.3" cy="452.7" r="3.95" fill="#2ecc71"/><circle cx="470.2" cy="465.3" r="3.95" fill="#2ecc71"/><circle cx="435.5" cy="502.0" r="3.95" fill="#2ecc71"/><circle cx="416.9" cy="474.2" r="3.95" fill="#2ecc71"/><circle cx="425.1" cy="447.6" r="3.95" fill="#2ecc71"/><circle cx="457.4" cy="457.3" r="3.95" fill="#2ecc71"/><circle cx="422.3" cy="477.7" r="3.95" fill="#2ecc71"/><circle cx="464.3" cy="482.4" r="3.95" fill="#2ecc71"/><circle cx="425.7" cy="491.1" r="3.95" fill="#2ecc71"/><circle cx="421.3" cy="486.1" r="3.95" fill="#2ecc71"/><circle cx="478.8" cy="478.4" r="3.95" fill="#2ecc71"/><circle cx="485.0" cy="499.5" r="3.95" fill="#2ecc71"/><circle cx="433.0" cy="498.7" r="3.95" fill="#2ecc71"/><circle cx="439.9" cy="446.1" r="3.95" fill="#2ecc71"/><circle cx="468.3" cy="495.5" r="3.95" fill="#2ecc71"/><circle cx="420.1" cy="496.5" r="3.95" fill="#2ecc71"/><circle cx="443.8" cy="466.5" r="3.95" fill="#2ecc71"/><circle cx="445.8" cy="491.0" r="3.95" fill="#2ecc71"/><circle cx="479.3" cy="468.7" r="3.95" fill="#2ecc71"/><circle cx="447.2" cy="475.4" r="3.95" fill="#2ecc71"/><circle cx="414.9" cy="458.0" r="3.95" fill="#2ecc71"/><circle cx="415.7" cy="482.5" r="3.95" fill="#2ecc71"/><circle cx="439.4" cy="474.8" r="3.95" fill="#2ecc71"/><circle cx="479.5" cy="482.6" r="3.95" fill="#2ecc71"/><circle cx="450.0" cy="478.2" r="3.95" fill="#2ecc71"/><circle cx="426.8" cy="479.0" r="3.95" fill="#2ecc71"/><circle cx="427.0" cy="463.9" r="3.95" fill="#2ecc71"/><circle cx="433.1" cy="457.0" r="3.95" fill="#2ecc71"/><circle cx="455.7" cy="468.8" r="3.95" fill="#2ecc71"/><circle cx="475.5" cy="501.9" r="3.95" fill="#2ecc71"/><circle cx="420.9" cy="456.2" r="3.95" fill="#2ecc71"/><circle cx="424.0" cy="460.4" r="3.95" fill="#2ecc71"/><circle cx="441.2" cy="464.6" r="3.95" fill="#2ecc71"/><circle cx="425.0" cy="489.0" r="3.95" fill="#2ecc71"/><circle cx="417.1" cy="488.9" r="3.95" fill="#2ecc71"/><circle cx="426.8" cy="475.7" r="3.95" fill="#2ecc71"/><circle cx="452.5" cy="468.0" r="3.95" fill="#2ecc71"/><circle cx="458.4" cy="472.3" r="3.95" fill="#2ecc71"/><circle cx="474.0" cy="499.0" r="3.95" fill="#2ecc71"/><circle cx="441.9" cy="443.1" r="3.95" fill="#2ecc71"/><circle cx="453.2" cy="475.1" r="3.95" fill="#2ecc71"/><circle cx="473.8" cy="492.7" r="3.95" fill="#2ecc71"/><circle cx="483.1" cy="482.2" r="3.95" fill="#2ecc71"/><circle cx="466.2" cy="492.2" r="3.95" fill="#2ecc71"/><circle cx="441.6" cy="470.3" r="3.95" fill="#2ecc71"/><circle cx="466.1" cy="471.6" r="3.95" fill="#2ecc71"/><circle cx="449.5" cy="472.1" r="3.95" fill="#2ecc71"/><circle cx="447.2" cy="467.8" r="3.95" fill="#2ecc71"/><circle cx="476.4" cy="475.6" r="3.95" fill="#2ecc71"/><circle cx="460.4" cy="461.0" r="3.95" fill="#2ecc71"/><circle cx="436.8" cy="475.4" r="3.95" fill="#2ecc71"/><circle cx="454.9" cy="491.9" r="3.95" fill="#2ecc71"/><circle cx="440.6" cy="502.4" r="3.95" fill="#2ecc71"/><circle cx="431.8" cy="482.7" r="3.95" fill="#2ecc71"/><circle cx="463.6" cy="461.8" r="3.95" fill="#2ecc71"/><circle cx="430.0" cy="484.1" r="3.95" fill="#2ecc71"/><circle cx="417.2" cy="484.1" r="3.95" fill="#2ecc71"/><circle cx="470.4" cy="499.2" r="3.95" fill="#2ecc71"/><circle cx="447.8" cy="480.8" r="3.95" fill="#2ecc71"/><circle cx="452.0" cy="502.7" r="3.95" fill="#2ecc71"/><circle cx="480.2" cy="473.5" r="3.95" fill="#2ecc71"/><circle cx="443.7" cy="448.0" r="3.95" fill="#2ecc71"/><circle cx="417.5" cy="479.1" r="3.95" fill="#2ecc71"/><circle cx="427.6" cy="468.0" r="3.95" fill="#2ecc71"/><circle cx="452.3" cy="454.0" r="3.95" fill="#2ecc71"/><circle cx="445.6" cy="463.8" r="3.95" fill="#2ecc71"/><circle cx="435.2" cy="504.7" r="3.95" fill="#2ecc71"/><circle cx="440.8" cy="458.1" r="3.95" fill="#2ecc71"/><circle cx="439.5" cy="482.0" r="3.95" fill="#2ecc71"/><circle cx="459.1" cy="492.0" r="3.95" fill="#2ecc71"/><circle cx="462.7" cy="479.1" r="3.95" fill="#2ecc71"/><circle cx="457.2" cy="461.1" r="3.95" fill="#2ecc71"/><circle cx="478.5" cy="497.8" r="3.95" fill="#2ecc71"/><circle cx="463.0" cy="468.8" r="3.95" fill="#2ecc71"/><circle cx="461.2" cy="485.6" r="3.95" fill="#2ecc71"/><circle cx="462.9" cy="471.7" r="3.95" fill="#2ecc71"/><circle cx="443.9" cy="475.2" r="3.95" fill="#2ecc71"/><circle cx="454.4" cy="486.0" r="3.95" fill="#2ecc71"/><circle cx="449.4" cy="451.3" r="3.95" fill="#2ecc71"/><circle cx="433.7" cy="491.8" r="3.95" fill="#2ecc71"/><circle cx="467.1" cy="474.9" r="3.95" fill="#2ecc71"/><circle cx="472.2" cy="467.3" r="3.95" fill="#2ecc71"/><circle cx="485.8" cy="491.5" r="3.95" fill="#2ecc71"/><circle cx="435.8" cy="467.5" r="3.95" fill="#2ecc71"/><circle cx="454.9" cy="496.2" r="3.95" fill="#2ecc71"/><circle cx="475.6" cy="489.7" r="3.95" fill="#2ecc71"/><circle cx="433.1" cy="455.0" r="3.95" fill="#2ecc71"/><circle cx="461.5" cy="504.8" r="3.95" fill="#2ecc71"/><circle cx="481.8" cy="498.0" r="3.95" fill="#2ecc71"/><circle cx="456.1" cy="502.5" r="3.95" fill="#2ecc71"/><circle cx="421.2" cy="471.9" r="3.95" fill="#2ecc71"/><circle cx="468.5" cy="503.4" r="3.95" fill="#2ecc71"/><circle cx="425.0" cy="494.8" r="3.95" fill="#2ecc71"/><circle cx="474.6" cy="465.4" r="3.95" fill="#2ecc71"/><circle cx="413.0" cy="486.2" r="3.95" fill="#2ecc71"/><circle cx="426.4" cy="471.3" r="3.95" fill="#2ecc71"/><circle cx="482.4" cy="464.8" r="3.95" fill="#2ecc71"/><circle cx="418.0" cy="490.9" r="3.95" fill="#2ecc71"/><circle cx="441.4" cy="485.9" r="3.95" fill="#2ecc71"/><circle cx="481.2" cy="491.4" r="3.95" fill="#2ecc71"/><circle cx="449.2" cy="494.6" r="3.95" fill="#2ecc71"/><circle cx="417.0" cy="463.4" r="3.95" fill="#2ecc71"/><circle cx="414.4" cy="463.4" r="3.95" fill="#2ecc71"/><circle cx="428.1" cy="461.8" r="3.95" fill="#2ecc71"/><circle cx="457.3" cy="477.1" r="3.95" fill="#2ecc71"/><circle cx="465.1" cy="457.6" r="3.95" fill="#2ecc71"/><circle cx="425.4" cy="450.2" r="3.95" fill="#2ecc71"/><circle cx="444.9" cy="472.4" r="3.95" fill="#2ecc71"/><circle cx="450.9" cy="487.7" r="3.95" fill="#2ecc71"/><circle cx="432.1" cy="495.1" r="3.95" fill="#2ecc71"/><circle cx="454.7" cy="456.9" r="3.95" fill="#2ecc71"/><circle cx="477.1" cy="464.6" r="3.95" fill="#2ecc71"/><circle cx="460.2" cy="487.8" r="3.95" fill="#2ecc71"/><circle cx="463.1" cy="456.3" r="3.95" fill="#2ecc71"/><circle cx="470.5" cy="490.8" r="3.95" fill="#2ecc71"/><circle cx="449.5" cy="485.2" r="3.95" fill="#2ecc71"/><circle cx="451.0" cy="499.9" r="3.95" fill="#2ecc71"/><circle cx="454.5" cy="471.7" r="3.95" fill="#2ecc71"/><circle cx="431.1" cy="487.8" r="3.95" fill="#2ecc71"/><circle cx="419.2" cy="459.9" r="3.95" fill="#2ecc71"/><circle cx="472.9" cy="484.6" r="3.95" fill="#2ecc71"/><circle cx="439.2" cy="484.2" r="3.95" fill="#2ecc71"/><circle cx="430.8" cy="442.4" r="3.95" fill="#2ecc71"/><circle cx="506.1" cy="483.5" r="3.95" fill="#2ecc71"/><circle cx="486.0" cy="472.1" r="3.95" fill="#2ecc71"/><circle cx="541.8" cy="485.8" r="3.95" fill="#2ecc71"/><circle cx="524.2" cy="484.0" r="3.95" fill="#2ecc71"/><circle cx="524.9" cy="488.9" r="3.95" fill="#2ecc71"/><circle cx="505.6" cy="472.2" r="3.95" fill="#2ecc71"/><circle cx="496.8" cy="501.9" r="3.95" fill="#2ecc71"/><circle cx="493.4" cy="479.9" r="3.95" fill="#2ecc71"/><circle cx="507.1" cy="479.4" r="3.95" fill="#2ecc71"/><circle cx="493.1" cy="493.8" r="3.95" fill="#2ecc71"/><circle cx="538.2" cy="491.0" r="3.95" fill="#2ecc71"/><circle cx="526.8" cy="479.0" r="3.95" fill="#2ecc71"/><circle cx="549.7" cy="495.4" r="3.95" fill="#2ecc71"/><circle cx="518.9" cy="490.6" r="3.95" fill="#2ecc71"/><circle cx="528.5" cy="495.1" r="3.95" fill="#2ecc71"/><circle cx="493.5" cy="472.1" r="3.95" fill="#2ecc71"/><circle cx="500.5" cy="491.6" r="3.95" fill="#2ecc71"/><circle cx="508.9" cy="499.8" r="3.95" fill="#2ecc71"/><circle cx="537.9" cy="502.5" r="3.95" fill="#2ecc71"/><circle cx="532.3" cy="490.0" r="3.95" fill="#2ecc71"/><circle cx="526.1" cy="501.7" r="3.95" fill="#2ecc71"/><circle cx="510.9" cy="472.1" r="3.95" fill="#2ecc71"/><circle cx="507.6" cy="489.2" r="3.95" fill="#2ecc71"/><circle cx="540.0" cy="495.9" r="3.95" fill="#2ecc71"/><circle cx="521.4" cy="494.8" r="3.95" fill="#2ecc71"/><circle cx="510.2" cy="496.9" r="3.95" fill="#2ecc71"/><circle cx="505.2" cy="495.8" r="3.95" fill="#2ecc71"/><circle cx="503.2" cy="498.9" r="3.95" fill="#2ecc71"/><circle cx="515.7" cy="478.2" r="3.95" fill="#2ecc71"/><circle cx="517.6" cy="495.4" r="3.95" fill="#2ecc71"/><circle cx="503.3" cy="478.8" r="3.95" fill="#2ecc71"/><circle cx="550.8" cy="488.4" r="3.95" fill="#2ecc71"/><circle cx="497.5" cy="471.9" r="3.95" fill="#2ecc71"/><circle cx="537.3" cy="496.7" r="3.95" fill="#2ecc71"/><circle cx="532.5" cy="500.7" r="3.95" fill="#2ecc71"/><circle cx="543.9" cy="489.3" r="3.95" fill="#2ecc71"/><circle cx="519.3" cy="477.9" r="3.95" fill="#2ecc71"/><circle cx="518.7" cy="483.6" r="3.95" fill="#2ecc71"/><circle cx="499.1" cy="494.1" r="3.95" fill="#2ecc71"/><circle cx="552.6" cy="496.7" r="3.95" fill="#2ecc71"/><circle cx="489.9" cy="479.4" r="3.95" fill="#2ecc71"/><circle cx="497.2" cy="483.4" r="3.95" fill="#2ecc71"/><circle cx="493.6" cy="467.2" r="3.95" fill="#2ecc71"/><circle cx="529.6" cy="484.9" r="3.95" fill="#2ecc71"/><circle cx="520.5" cy="498.6" r="3.95" fill="#2ecc71"/><circle cx="509.8" cy="484.9" r="3.95" fill="#2ecc71"/><circle cx="513.0" cy="488.3" r="3.95" fill="#2ecc71"/><circle cx="490.2" cy="489.1" r="3.95" fill="#2ecc71"/><circle cx="497.0" cy="490.3" r="3.95" fill="#2ecc71"/><circle cx="543.9" cy="501.3" r="3.95" fill="#2ecc71"/><circle cx="516.9" cy="474.5" r="3.95" fill="#2ecc71"/><circle cx="537.4" cy="485.5" r="3.95" fill="#2ecc71"/><circle cx="487.6" cy="467.7" r="3.95" fill="#2ecc71"/><circle cx="488.8" cy="502.5" r="3.95" fill="#2ecc71"/><circle cx="490.3" cy="483.1" r="3.95" fill="#2ecc71"/><circle cx="512.4" cy="500.1" r="3.95" fill="#2ecc71"/><circle cx="425.3" cy="469.5" r="3.95" fill="#2ecc71"/><circle cx="428.1" cy="466.8" r="3.95" fill="#2ecc71"/><circle cx="423.7" cy="472.9" r="3.95" fill="#2ecc71"/><circle cx="430.9" cy="466.3" r="3.95" fill="#2ecc71"/><circle cx="432.4" cy="465.0" r="3.95" fill="#2ecc71"/><circle cx="429.4" cy="468.6" r="3.95" fill="#2ecc71"/><circle cx="437.2" cy="460.9" r="3.95" fill="#2ecc71"/><circle cx="434.5" cy="464.4" r="3.95" fill="#2ecc71"/><circle cx="426.2" cy="474.0" r="3.95" fill="#2ecc71"/><circle cx="428.2" cy="472.1" r="3.95" fill="#2ecc71"/><circle cx="433.9" cy="466.7" r="3.95" fill="#2ecc71"/><circle cx="439.7" cy="460.9" r="3.95" fill="#2ecc71"/><circle cx="424.0" cy="476.7" r="3.95" fill="#2ecc71"/><circle cx="437.2" cy="464.0" r="3.95" fill="#2ecc71"/><circle cx="431.9" cy="469.8" r="3.95" fill="#2ecc71"/><circle cx="428.2" cy="474.3" r="3.95" fill="#2ecc71"/><circle cx="430.5" cy="472.1" r="3.95" fill="#2ecc71"/><circle cx="436.0" cy="467.6" r="3.95" fill="#2ecc71"/><circle cx="427.5" cy="476.6" r="3.95" fill="#2ecc71"/><circle cx="435.5" cy="469.2" r="3.95" fill="#2ecc71"/><circle cx="442.6" cy="462.3" r="3.95" fill="#2ecc71"/><circle cx="425.6" cy="479.7" r="3.95" fill="#2ecc71"/><circle cx="434.2" cy="471.2" r="3.95" fill="#2ecc71"/><circle cx="441.3" cy="464.4" r="3.95" fill="#2ecc71"/><circle cx="445.0" cy="460.7" r="3.95" fill="#2ecc71"/><circle cx="439.3" cy="466.6" r="3.95" fill="#2ecc71"/><circle cx="431.9" cy="474.7" r="3.95" fill="#2ecc71"/><circle cx="438.7" cy="468.8" r="3.95" fill="#2ecc71"/><circle cx="444.5" cy="463.5" r="3.95" fill="#2ecc71"/><circle cx="430.4" cy="478.0" r="3.95" fill="#2ecc71"/><circle cx="436.8" cy="472.1" r="3.95" fill="#2ecc71"/><circle cx="429.2" cy="479.9" r="3.95" fill="#2ecc71"/><circle cx="432.6" cy="476.5" r="3.95" fill="#2ecc71"/><circle cx="427.6" cy="481.6" r="3.95" fill="#2ecc71"/><circle cx="434.1" cy="475.1" r="3.95" fill="#2ecc71"/><circle cx="447.8" cy="461.7" r="3.95" fill="#2ecc71"/><circle cx="443.1" cy="466.6" r="3.95" fill="#2ecc71"/><circle cx="450.0" cy="459.8" r="3.95" fill="#2ecc71"/><circle cx="431.9" cy="479.2" r="3.95" fill="#2ecc71"/><circle cx="441.4" cy="469.9" r="3.95" fill="#2ecc71"/><circle cx="450.6" cy="460.9" r="3.95" fill="#2ecc71"/><circle cx="439.1" cy="472.4" r="3.95" fill="#2ecc71"/><circle cx="446.7" cy="464.9" r="3.95" fill="#2ecc71"/><circle cx="445.8" cy="466.2" r="3.95" fill="#2ecc71"/><circle cx="429.6" cy="483.1" r="3.95" fill="#2ecc71"/><circle cx="437.7" cy="475.1" r="3.95" fill="#2ecc71"/><circle cx="437.0" cy="476.4" r="3.95" fill="#2ecc71"/><circle cx="444.7" cy="469.4" r="3.95" fill="#2ecc71"/><circle cx="442.9" cy="471.3" r="3.95" fill="#2ecc71"/><circle cx="450.2" cy="464.1" r="3.95" fill="#2ecc71"/><circle cx="434.8" cy="479.5" r="3.95" fill="#2ecc71"/><circle cx="432.7" cy="481.8" r="3.95" fill="#2ecc71"/><circle cx="446.3" cy="468.6" r="3.95" fill="#2ecc71"/><circle cx="449.1" cy="466.4" r="3.95" fill="#2ecc71"/><circle cx="440.1" cy="475.4" r="3.95" fill="#2ecc71"/><circle cx="431.5" cy="484.7" r="3.95" fill="#2ecc71"/><circle cx="454.5" cy="462.4" r="3.95" fill="#2ecc71"/><circle cx="439.1" cy="477.8" r="3.95" fill="#2ecc71"/><circle cx="437.4" cy="479.9" r="3.95" fill="#2ecc71"/><circle cx="435.9" cy="481.7" r="3.95" fill="#2ecc71"/><circle cx="445.9" cy="471.9" r="3.95" fill="#2ecc71"/><circle cx="452.8" cy="465.1" r="3.95" fill="#2ecc71"/><circle cx="450.7" cy="467.6" r="3.95" fill="#2ecc71"/><circle cx="457.4" cy="461.4" r="3.95" fill="#2ecc71"/><circle cx="450.1" cy="468.8" r="3.95" fill="#2ecc71"/><circle cx="442.7" cy="476.7" r="3.95" fill="#2ecc71"/><circle cx="456.1" cy="463.3" r="3.95" fill="#2ecc71"/><circle cx="444.2" cy="475.4" r="3.95" fill="#2ecc71"/><circle cx="435.4" cy="484.7" r="3.95" fill="#2ecc71"/><circle cx="440.4" cy="480.2" r="3.95" fill="#2ecc71"/><circle cx="448.5" cy="472.2" r="3.95" fill="#2ecc71"/><circle cx="444.7" cy="476.8" r="3.95" fill="#2ecc71"/><circle cx="453.9" cy="467.6" r="3.95" fill="#2ecc71"/><circle cx="453.2" cy="468.6" r="3.95" fill="#2ecc71"/><circle cx="450.7" cy="472.2" r="3.95" fill="#2ecc71"/><circle cx="447.9" cy="475.2" r="3.95" fill="#2ecc71"/><circle cx="438.2" cy="485.1" r="3.95" fill="#2ecc71"/><circle cx="440.1" cy="483.3" r="3.95" fill="#2ecc71"/><circle cx="444.3" cy="479.1" r="3.95" fill="#2ecc71"/><circle cx="459.5" cy="463.9" r="3.95" fill="#2ecc71"/><circle cx="449.3" cy="474.3" r="3.95" fill="#2ecc71"/><circle cx="442.8" cy="482.2" r="3.95" fill="#2ecc71"/><circle cx="458.4" cy="467.0" r="3.95" fill="#2ecc71"/><circle cx="456.5" cy="468.9" r="3.95" fill="#2ecc71"/><circle cx="461.9" cy="463.7" r="3.95" fill="#2ecc71"/><circle cx="459.6" cy="466.0" r="3.95" fill="#2ecc71"/><circle cx="448.1" cy="477.7" r="3.95" fill="#2ecc71"/><circle cx="441.8" cy="484.1" r="3.95" fill="#2ecc71"/><circle cx="447.2" cy="479.5" r="3.95" fill="#2ecc71"/><circle cx="458.1" cy="468.8" r="3.95" fill="#2ecc71"/><circle cx="454.3" cy="472.7" r="3.95" fill="#2ecc71"/><circle cx="440.3" cy="487.0" r="3.95" fill="#2ecc71"/><circle cx="452.5" cy="475.1" r="3.95" fill="#2ecc71"/><circle cx="446.2" cy="482.4" r="3.95" fill="#2ecc71"/><circle cx="443.4" cy="485.5" r="3.95" fill="#2ecc71"/><circle cx="455.4" cy="474.1" r="3.95" fill="#2ecc71"/><circle cx="463.0" cy="466.6" r="3.95" fill="#2ecc71"/><circle cx="457.0" cy="472.6" r="3.95" fill="#2ecc71"/><circle cx="449.9" cy="480.0" r="3.95" fill="#2ecc71"/><circle cx="452.4" cy="477.7" r="3.95" fill="#2ecc71"/><circle cx="447.8" cy="482.7" r="3.95" fill="#2ecc71"/><circle cx="442.6" cy="488.4" r="3.95" fill="#2ecc71"/><circle cx="461.9" cy="469.5" r="3.95" fill="#2ecc71"/><circle cx="447.3" cy="484.3" r="3.95" fill="#2ecc71"/><circle cx="458.3" cy="473.9" r="3.95" fill="#2ecc71"/><circle cx="460.9" cy="472.2" r="3.95" fill="#2ecc71"/><circle cx="455.2" cy="478.0" r="3.95" fill="#2ecc71"/><circle cx="451.2" cy="482.0" r="3.95" fill="#2ecc71"/><circle cx="445.6" cy="487.9" r="3.95" fill="#2ecc71"/><circle cx="464.8" cy="468.8" r="3.95" fill="#2ecc71"/><circle cx="449.3" cy="484.5" r="3.95" fill="#2ecc71"/><circle cx="453.5" cy="480.5" r="3.95" fill="#2ecc71"/><circle cx="466.7" cy="467.6" r="3.95" fill="#2ecc71"/><circle cx="464.2" cy="471.2" r="3.95" fill="#2ecc71"/><circle cx="456.4" cy="479.3" r="3.95" fill="#2ecc71"/><circle cx="458.2" cy="477.9" r="3.95" fill="#2ecc71"/><circle cx="449.4" cy="487.0" r="3.95" fill="#2ecc71"/><circle cx="454.2" cy="482.2" r="3.95" fill="#2ecc71"/><circle cx="461.3" cy="476.5" r="3.95" fill="#2ecc71"/><circle cx="468.0" cy="470.2" r="3.95" fill="#2ecc71"/><circle cx="462.8" cy="475.4" r="3.95" fill="#2ecc71"/><circle cx="459.1" cy="479.5" r="3.95" fill="#2ecc71"/><circle cx="453.1" cy="485.7" r="3.95" fill="#2ecc71"/><circle cx="466.7" cy="472.2" r="3.95" fill="#2ecc71"/><circle cx="450.7" cy="488.2" r="3.95" fill="#2ecc71"/><circle cx="456.9" cy="482.6" r="3.95" fill="#2ecc71"/><circle cx="464.8" cy="475.0" r="3.95" fill="#2ecc71"/><circle cx="463.2" cy="476.7" r="3.95" fill="#2ecc71"/><circle cx="455.5" cy="484.4" r="3.95" fill="#2ecc71"/><circle cx="461.1" cy="479.9" r="3.95" fill="#2ecc71"/><circle cx="469.8" cy="471.8" r="3.95" fill="#2ecc71"/><circle cx="454.6" cy="487.0" r="3.95" fill="#2ecc71"/><circle cx="467.9" cy="474.6" r="3.95" fill="#2ecc71"/><circle cx="461.2" cy="482.5" r="3.95" fill="#2ecc71"/><circle cx="466.7" cy="477.2" r="3.95" fill="#2ecc71"/><circle cx="459.3" cy="484.8" r="3.95" fill="#2ecc71"/><circle cx="462.6" cy="482.7" r="3.95" fill="#2ecc71"/><circle cx="464.9" cy="480.4" r="3.95" fill="#2ecc71"/><circle cx="470.8" cy="474.8" r="3.95" fill="#2ecc71"/><circle cx="469.2" cy="477.8" r="3.95" fill="#2ecc71"/><circle cx="465.6" cy="482.3" r="3.95" fill="#2ecc71"/><circle cx="467.7" cy="480.4" r="3.95" fill="#2ecc71"/><circle cx="440.3" cy="399.2" r="3.95" fill="#2ecc71"/><circle cx="437.6" cy="406.5" r="3.95" fill="#2ecc71"/><circle cx="437.6" cy="413.8" r="3.95" fill="#2ecc71"/><circle cx="441.8" cy="415.7" r="3.95" fill="#2ecc71"/><circle cx="434.8" cy="426.7" r="3.95" fill="#2ecc71"/><circle cx="439.4" cy="431.2" r="3.95" fill="#2ecc71"/><circle cx="427.5" cy="435.8" r="3.95" fill="#2ecc71"/><circle cx="433.9" cy="438.0" r="3.95" fill="#2ecc71"/><circle cx="448.0" cy="438.0" r="3.95" fill="#2ecc71"/><circle cx="444.9" cy="439.5" r="3.95" fill="#2ecc71"/><circle cx="488.0" cy="409.8" r="3.95" fill="#2ecc71"/><circle cx="473.3" cy="436.7" r="3.95" fill="#2ecc71"/><circle cx="476.1" cy="447.2" r="3.95" fill="#2ecc71"/><circle cx="412.8" cy="455.1" r="3.95" fill="#2ecc71"/><circle cx="414.7" cy="461.5" r="3.95" fill="#2ecc71"/><circle cx="414.7" cy="476.1" r="3.95" fill="#2ecc71"/><circle cx="411.9" cy="485.3" r="3.95" fill="#2ecc71"/><circle cx="412.8" cy="492.6" r="3.95" fill="#2ecc71"/><circle cx="418.3" cy="500.0" r="3.95" fill="#2ecc71"/><circle cx="428.4" cy="506.4" r="3.95" fill="#2ecc71"/><circle cx="439.4" cy="507.3" r="3.95" fill="#2ecc71"/><circle cx="452.2" cy="507.3" r="3.95" fill="#2ecc71"/><circle cx="448.6" cy="515.2" r="3.95" fill="#2ecc71"/><circle cx="467.8" cy="506.9" r="3.95" fill="#2ecc71"/><circle cx="478.8" cy="506.9" r="3.95" fill="#2ecc71"/><circle cx="480.6" cy="517.0" r="3.95" fill="#2ecc71"/><circle cx="484.3" cy="503.6" r="3.95" fill="#2ecc71"/><circle cx="463.2" cy="455.1" r="3.95" fill="#2ecc71"/><circle cx="474.2" cy="459.3" r="3.95" fill="#2ecc71"/><circle cx="480.6" cy="461.1" r="3.95" fill="#2ecc71"/><circle cx="486.1" cy="462.0" r="3.95" fill="#2ecc71"/><circle cx="538.5" cy="452.9" r="3.95" fill="#2ecc71"/><circle cx="486.8" cy="461.5" r="3.95" fill="#2ecc71"/><circle cx="520.2" cy="463.0" r="3.95" fill="#2ecc71"/><circle cx="516.2" cy="470.6" r="3.95" fill="#2ecc71"/><circle cx="526.2" cy="472.8" r="3.95" fill="#2ecc71"/><circle cx="513.4" cy="469.2" r="3.95" fill="#2ecc71"/><circle cx="498.7" cy="469.7" r="3.95" fill="#2ecc71"/><circle cx="504.2" cy="471.6" r="3.95" fill="#2ecc71"/><circle cx="488.7" cy="468.8" r="3.95" fill="#2ecc71"/><circle cx="533.6" cy="482.6" r="3.95" fill="#2ecc71"/><circle cx="523.5" cy="484.4" r="3.95" fill="#2ecc71"/><circle cx="516.2" cy="480.7" r="3.95" fill="#2ecc71"/><circle cx="554.6" cy="485.7" r="3.95" fill="#2ecc71"/><circle cx="558.3" cy="489.0" r="3.95" fill="#2ecc71"/><circle cx="490.5" cy="498.1" r="3.95" fill="#2ecc71"/><circle cx="485.9" cy="503.6" r="3.95" fill="#2ecc71"/><circle cx="496.4" cy="506.4" r="3.95" fill="#2ecc71"/><circle cx="510.7" cy="506.4" r="3.95" fill="#2ecc71"/><circle cx="520.7" cy="501.8" r="3.95" fill="#2ecc71"/><circle cx="529.9" cy="503.6" r="3.95" fill="#2ecc71"/><circle cx="533.6" cy="501.8" r="3.95" fill="#2ecc71"/><circle cx="541.8" cy="504.6" r="3.95" fill="#2ecc71"/><circle cx="421.4" cy="443.2" r="3.95" fill="#2ecc71"/><circle cx="427.8" cy="436.8" r="3.95" fill="#2ecc71"/><circle cx="434.2" cy="438.5" r="3.95" fill="#2ecc71"/><circle cx="448.2" cy="437.9" r="3.95" fill="#2ecc71"/><circle cx="440.0" cy="444.9" r="3.95" fill="#2ecc71"/><circle cx="456.4" cy="447.8" r="3.95" fill="#2ecc71"/><circle cx="462.8" cy="455.4" r="3.95" fill="#2ecc71"/><circle cx="464.0" cy="462.4" r="3.95" fill="#2ecc71"/><circle cx="473.9" cy="459.5" r="3.95" fill="#2ecc71"/><circle cx="480.9" cy="461.3" r="3.95" fill="#2ecc71"/><circle cx="476.2" cy="447.3" r="3.95" fill="#2ecc71"/><circle cx="473.9" cy="436.8" r="3.95" fill="#2ecc71"/><circle cx="412.6" cy="454.9" r="3.95" fill="#2ecc71"/><circle cx="413.8" cy="462.4" r="3.95" fill="#2ecc71"/><circle cx="414.9" cy="475.9" r="3.95" fill="#2ecc71"/><circle cx="412.6" cy="485.2" r="3.95" fill="#2ecc71"/><circle cx="413.2" cy="492.8" r="3.95" fill="#2ecc71"/><circle cx="419.0" cy="500.4" r="3.95" fill="#2ecc71"/><circle cx="430.1" cy="506.8" r="3.95" fill="#2ecc71"/><circle cx="439.5" cy="507.4" r="3.95" fill="#2ecc71"/><circle cx="452.3" cy="507.4" r="3.95" fill="#2ecc71"/><circle cx="468.1" cy="506.8" r="3.95" fill="#2ecc71"/><circle cx="478.6" cy="506.2" r="3.95" fill="#2ecc71"/><circle cx="562.9" cy="489.5" r="3.95" fill="#e74c3c"/><circle cx="558.3" cy="498.7" r="3.95" fill="#e74c3c"/><circle cx="565.6" cy="497.2" r="3.95" fill="#e74c3c"/><circle cx="557.4" cy="504.0" r="3.95" fill="#e74c3c"/><circle cx="551.0" cy="505.5" r="3.95" fill="#e74c3c"/><circle cx="543.7" cy="508.8" r="3.95" fill="#e74c3c"/><circle cx="568.4" cy="502.7" r="3.95" fill="#e74c3c"/><circle cx="573.0" cy="502.2" r="3.95" fill="#e74c3c"/><circle cx="558.3" cy="498.9" r="3.95" fill="#e74c3c"/><circle cx="557.0" cy="503.5" r="3.95" fill="#e74c3c"/><circle cx="566.2" cy="497.6" r="3.95" fill="#e74c3c"/><circle cx="567.5" cy="502.8" r="3.95" fill="#e74c3c"/><circle cx="572.7" cy="501.5" r="3.95" fill="#e74c3c"/><circle cx="576.7" cy="502.2" r="3.95" fill="#e74c3c"/><circle cx="583.9" cy="501.5" r="3.95" fill="#e74c3c"/><circle cx="592.2" cy="499.9" r="3.95" fill="#e74c3c"/><circle cx="585.0" cy="489.7" r="3.95" fill="#e74c3c"/><circle cx="601.6" cy="493.9" r="3.95" fill="#e74c3c"/><circle cx="610.2" cy="482.4" r="3.95" fill="#e74c3c"/><circle cx="617.0" cy="491.0" r="3.95" fill="#e74c3c"/><circle cx="608.0" cy="509.0" r="3.95" fill="#e74c3c"/><circle cx="644.3" cy="464.1" r="3.95" fill="#e74c3c"/></g>
<line x1="402.3" y1="652.9" x2="671.6" y2="375.4" stroke="#303030" stroke-width="1.85" stroke-dasharray="6.4 2.8"/>
<line x1="402.3" y1="374.5" x2="402.3" y2="653.5" stroke="#262626" stroke-width="1.3"/>
<line x1="401.7" y1="652.9" x2="672.2" y2="652.9" stroke="#262626" stroke-width="1.3"/>
<line x1="402.3" y1="652.9" x2="402.3" y2="658.9" stroke="#262626" stroke-width="1.1"/>
<text x="402.3" y="678.2" text-anchor="middle" class="t" style="font-size:15.2px">0.05</text>
<line x1="492.27" y1="652.9" x2="492.27" y2="658.9" stroke="#262626" stroke-width="1.1"/>
<text x="492.27" y="678.2" text-anchor="middle" class="t" style="font-size:15.2px">0.35</text>
<line x1="582.24" y1="652.9" x2="582.24" y2="658.9" stroke="#262626" stroke-width="1.1"/>
<text x="582.24" y="678.2" text-anchor="middle" class="t" style="font-size:15.2px">0.65</text>
<line x1="672.21" y1="652.9" x2="672.21" y2="658.9" stroke="#262626" stroke-width="1.1"/>
<text x="672.21" y="678.2" text-anchor="middle" class="t" style="font-size:15.2px">0.95</text>
<line x1="396.5" y1="652.9" x2="402.3" y2="652.9" stroke="#262626" stroke-width="1.1"/>
<text x="388.0" y="657.5" text-anchor="end" class="t" style="font-size:15.2px">0.05</text>
<line x1="396.5" y1="560.1" x2="402.3" y2="560.1" stroke="#262626" stroke-width="1.1"/>
<text x="388.0" y="564.7" text-anchor="end" class="t" style="font-size:15.2px">0.35</text>
<line x1="396.5" y1="467.29999999999995" x2="402.3" y2="467.29999999999995" stroke="#262626" stroke-width="1.1"/>
<text x="388.0" y="471.9" text-anchor="end" class="t" style="font-size:15.2px">0.65</text>
<line x1="396.5" y1="374.5" x2="402.3" y2="374.5" stroke="#262626" stroke-width="1.1"/>
<text x="388.0" y="379.1" text-anchor="end" class="t" style="font-size:15.2px">0.95</text>
<text x="537.3" y="696.5" text-anchor="middle" class="l" style="font-size:17.3px">RBFComUnbal</text>
<text transform="translate(355.0,513.8) rotate(-90)" x="0" y="0" text-anchor="middle" class="l" style="font-size:17.3px">RBFComBal</text>
<text x="530.3" y="731.8" text-anchor="middle" class="g">(d)</text>
</svg>
</body></html>
